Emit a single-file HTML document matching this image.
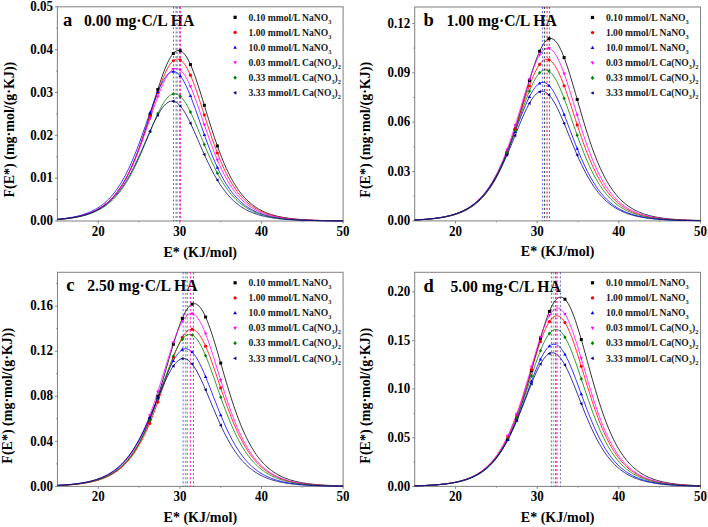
<!DOCTYPE html>
<html><head><meta charset="utf-8"><style>html,body{margin:0;padding:0;background:#fff;width:708px;height:527px;overflow:hidden}</style></head>
<body><svg width="708" height="527" viewBox="0 0 708 527" style="display:block;font-family:'Liberation Serif', serif;font-weight:bold">
<rect width="708" height="527" fill="#fff"/>
<rect x="57.40" y="6.80" width="285.70" height="214.20" fill="none" stroke="#858585" stroke-width="1.05"/>
<line x1="98.21" y1="221.00" x2="98.21" y2="223.50" stroke="#858585" stroke-width="1"/>
<line x1="179.84" y1="221.00" x2="179.84" y2="223.50" stroke="#858585" stroke-width="1"/>
<line x1="261.47" y1="221.00" x2="261.47" y2="223.50" stroke="#858585" stroke-width="1"/>
<line x1="343.10" y1="221.00" x2="343.10" y2="223.50" stroke="#858585" stroke-width="1"/>
<line x1="139.03" y1="221.00" x2="139.03" y2="222.50" stroke="#858585" stroke-width="0.8"/>
<line x1="220.66" y1="221.00" x2="220.66" y2="222.50" stroke="#858585" stroke-width="0.8"/>
<line x1="302.29" y1="221.00" x2="302.29" y2="222.50" stroke="#858585" stroke-width="0.8"/>
<text transform="translate(98.21,236.00) scale(1,1.12)" font-size="13" text-anchor="middle">20</text>
<text transform="translate(179.84,236.00) scale(1,1.12)" font-size="13" text-anchor="middle">30</text>
<text transform="translate(261.47,236.00) scale(1,1.12)" font-size="13" text-anchor="middle">40</text>
<text transform="translate(343.10,236.00) scale(1,1.12)" font-size="13" text-anchor="middle">50</text>
<line x1="54.90" y1="221.00" x2="57.40" y2="221.00" stroke="#858585" stroke-width="1"/>
<text transform="translate(53.00,225.20) scale(1,1.15)" font-size="13" text-anchor="end">0.00</text>
<line x1="54.90" y1="178.16" x2="57.40" y2="178.16" stroke="#858585" stroke-width="1"/>
<text transform="translate(53.00,182.36) scale(1,1.15)" font-size="13" text-anchor="end">0.01</text>
<line x1="54.90" y1="135.32" x2="57.40" y2="135.32" stroke="#858585" stroke-width="1"/>
<text transform="translate(53.00,139.52) scale(1,1.15)" font-size="13" text-anchor="end">0.02</text>
<line x1="54.90" y1="92.48" x2="57.40" y2="92.48" stroke="#858585" stroke-width="1"/>
<text transform="translate(53.00,96.68) scale(1,1.15)" font-size="13" text-anchor="end">0.03</text>
<line x1="54.90" y1="49.64" x2="57.40" y2="49.64" stroke="#858585" stroke-width="1"/>
<text transform="translate(53.00,53.84) scale(1,1.15)" font-size="13" text-anchor="end">0.04</text>
<line x1="54.90" y1="6.80" x2="57.40" y2="6.80" stroke="#858585" stroke-width="1"/>
<text transform="translate(53.00,11.00) scale(1,1.15)" font-size="13" text-anchor="end">0.05</text>
<line x1="55.90" y1="199.58" x2="57.40" y2="199.58" stroke="#858585" stroke-width="0.8"/>
<line x1="55.90" y1="156.74" x2="57.40" y2="156.74" stroke="#858585" stroke-width="0.8"/>
<line x1="55.90" y1="113.90" x2="57.40" y2="113.90" stroke="#858585" stroke-width="0.8"/>
<line x1="55.90" y1="71.06" x2="57.40" y2="71.06" stroke="#858585" stroke-width="0.8"/>
<line x1="55.90" y1="28.22" x2="57.40" y2="28.22" stroke="#858585" stroke-width="0.8"/>
<text x="200.25" y="256.50" font-size="14" text-anchor="middle">E* (KJ/mol)</text>
<text transform="translate(13.90,129.60) rotate(-90)" font-size="14" text-anchor="middle">F(E*) (mg·mol/(g·KJ))</text>
<text x="62.90" y="25.50" font-size="18.5">a</text>
<text transform="translate(84.00,25.50) scale(1,1.05)" font-size="15.7">0.00</text>
<text x="115.40" y="25.50" font-size="15.7">mg·C/L HA</text>
<rect x="233.50" y="15.70" width="3.20" height="3.20" fill="#000000"/>
<text x="248.50" y="20.50" font-size="9.6" fill="#1a1a1a">0.10 mmol/L NaNO<tspan font-size="6.3" dy="3">3</tspan></text>
<circle cx="235.10" cy="32.40" r="1.68" fill="#ff0000"/>
<text x="248.50" y="35.60" font-size="9.6" fill="#1a1a1a">1.00 mmol/L NaNO<tspan font-size="6.3" dy="3">3</tspan></text>
<path d="M235.10,45.58L236.94,48.78L233.26,48.78Z" fill="#0000ff"/>
<text x="248.50" y="50.70" font-size="9.6" fill="#1a1a1a">10.0 mmol/L NaNO<tspan font-size="6.3" dy="3">3</tspan></text>
<path d="M235.10,64.52L236.94,61.32L233.26,61.32Z" fill="#ff00ff"/>
<text x="248.50" y="65.80" font-size="9.6" fill="#1a1a1a">0.03 mmol/L Ca(NO<tspan font-size="6.3" dy="3">3</tspan><tspan dy="-3">)</tspan><tspan font-size="6.3" dy="3">2</tspan></text>
<path d="M235.10,75.62L236.86,77.70L235.10,79.78L233.34,77.70Z" fill="#008000"/>
<text x="248.50" y="80.90" font-size="9.6" fill="#1a1a1a">0.33 mmol/L Ca(NO<tspan font-size="6.3" dy="3">3</tspan><tspan dy="-3">)</tspan><tspan font-size="6.3" dy="3">2</tspan></text>
<path d="M233.18,92.80L236.38,90.96L236.38,94.64Z" fill="#000080"/>
<text x="248.50" y="96.00" font-size="9.6" fill="#1a1a1a">3.33 mmol/L Ca(NO<tspan font-size="6.3" dy="3">3</tspan><tspan dy="-3">)</tspan><tspan font-size="6.3" dy="3">2</tspan></text>
<polyline points="57.40,219.42 58.59,219.32 59.78,219.22 60.97,219.11 62.16,218.99 63.35,218.87 64.54,218.74 65.73,218.60 66.92,218.46 68.11,218.30 69.30,218.14 70.49,217.97 71.69,217.78 72.88,217.59 74.07,217.38 75.26,217.16 76.45,216.93 77.64,216.68 78.83,216.42 80.02,216.14 81.21,215.85 82.40,215.54 83.59,215.21 84.78,214.86 85.97,214.49 87.16,214.10 88.35,213.69 89.54,213.25 90.73,212.79 91.92,212.29 93.11,211.77 94.30,211.23 95.49,210.64 96.68,210.03 97.87,209.38 99.06,208.69 100.25,207.97 101.45,207.20 102.64,206.39 103.83,205.54 105.02,204.64 106.21,203.69 107.40,202.68 108.59,201.63 109.78,200.51 110.97,199.34 112.16,198.10 113.35,196.80 114.54,195.43 115.73,193.99 116.92,192.48 118.11,190.89 119.30,189.23 120.49,187.48 121.68,185.65 122.87,183.73 124.06,181.73 125.25,179.63 126.44,177.44 127.63,175.16 128.83,172.77 130.02,170.29 131.21,167.71 132.40,165.03 133.59,162.25 134.78,159.37 135.97,156.39 137.16,153.31 138.35,150.13 139.54,146.86 140.73,143.50 141.92,140.05 143.11,136.52 144.30,132.91 145.49,129.23 146.68,125.49 147.87,121.69 149.06,117.85 150.25,113.98 151.44,110.08 152.63,106.17 153.82,102.27 155.01,98.39 156.20,94.54 157.40,90.74 158.59,87.01 159.78,83.37 160.97,79.83 162.16,76.40 163.35,73.12 164.54,70.00 165.73,67.05 166.92,64.29 168.11,61.75 169.30,59.43 170.49,57.35 171.68,55.53 172.87,53.97 174.06,52.69 175.25,51.70 176.44,51.00 177.63,50.60 178.82,50.50 180.01,50.70 181.20,51.21 182.39,52.01 183.58,53.10 184.77,54.47 185.97,56.12 187.16,58.03 188.35,60.20 189.54,62.60 190.73,65.21 191.92,68.04 193.11,71.05 194.30,74.23 195.49,77.56 196.68,81.03 197.87,84.61 199.06,88.28 200.25,92.04 201.44,95.86 202.63,99.72 203.82,103.61 205.01,107.51 206.20,111.42 207.39,115.31 208.58,119.17 209.77,123.00 210.96,126.77 212.15,130.50 213.34,134.15 214.54,137.74 215.73,141.24 216.92,144.66 218.11,147.99 219.30,151.23 220.49,154.38 221.68,157.42 222.87,160.37 224.06,163.22 225.25,165.96 226.44,168.61 227.63,171.15 228.82,173.60 230.01,175.95 231.20,178.20 232.39,180.36 233.58,182.42 234.77,184.40 235.96,186.29 237.15,188.09 238.34,189.81 239.53,191.45 240.72,193.01 241.91,194.49 243.11,195.91 244.30,197.25 245.49,198.53 246.68,199.75 247.87,200.90 249.06,201.99 250.25,203.03 251.44,204.02 252.63,204.95 253.82,205.84 255.01,206.68 256.20,207.47 257.39,208.22 258.58,208.93 259.77,209.61 260.96,210.24 262.15,210.85 263.34,211.42 264.53,211.96 265.72,212.47 266.91,212.95 268.10,213.40 269.29,213.83 270.48,214.24 271.68,214.62 272.87,214.98 274.06,215.32 275.25,215.65 276.44,215.95 277.63,216.24 278.82,216.51 280.01,216.77 281.20,217.01 282.39,217.24 283.58,217.45 284.77,217.66 285.96,217.85 287.15,218.03 288.34,218.20 289.53,218.36 290.72,218.51 291.91,218.65 293.10,218.79 294.29,218.91 295.48,219.03 296.67,219.15 297.86,219.25 299.05,219.35 300.25,219.45 301.44,219.54 302.63,219.62 303.82,219.70 305.01,219.78 306.20,219.85 307.39,219.91 308.58,219.98 309.77,220.03 310.96,220.09 312.15,220.14 313.34,220.19 314.53,220.24 315.72,220.28 316.91,220.32 318.10,220.36 319.29,220.40 320.48,220.43 321.67,220.47 322.86,220.50 324.05,220.53 325.24,220.55 326.43,220.58 327.62,220.60 328.81,220.63 330.01,220.65 331.20,220.67 332.39,220.69 333.58,220.71 334.77,220.72 335.96,220.74 337.15,220.75 338.34,220.77 339.53,220.78 340.72,220.79 341.91,220.81 343.10,220.82" fill="none" stroke="#000000" stroke-width="0.8"/>
<polyline points="57.40,219.40 58.59,219.30 59.78,219.20 60.97,219.09 62.16,218.98 63.35,218.85 64.54,218.72 65.73,218.58 66.92,218.44 68.11,218.28 69.30,218.11 70.49,217.94 71.69,217.75 72.88,217.56 74.07,217.35 75.26,217.13 76.45,216.89 77.64,216.64 78.83,216.38 80.02,216.10 81.21,215.80 82.40,215.49 83.59,215.16 84.78,214.81 85.97,214.44 87.16,214.04 88.35,213.63 89.54,213.18 90.73,212.72 91.92,212.22 93.11,211.70 94.30,211.15 95.49,210.56 96.68,209.95 97.87,209.29 99.06,208.60 100.25,207.87 101.45,207.11 102.64,206.29 103.83,205.43 105.02,204.53 106.21,203.58 107.40,202.57 108.59,201.51 109.78,200.39 110.97,199.22 112.16,197.98 113.35,196.68 114.54,195.31 115.73,193.87 116.92,192.36 118.11,190.78 119.30,189.12 120.49,187.38 121.68,185.55 122.87,183.64 124.06,181.65 125.25,179.57 126.44,177.40 127.63,175.13 128.83,172.77 130.02,170.32 131.21,167.77 132.40,165.13 133.59,162.39 134.78,159.55 135.97,156.63 137.16,153.61 138.35,150.50 139.54,147.30 140.73,144.02 141.92,140.66 143.11,137.23 144.30,133.74 145.49,130.18 146.68,126.58 147.87,122.93 149.06,119.25 150.25,115.55 151.44,111.84 152.63,108.13 153.82,104.45 155.01,100.79 156.20,97.19 157.40,93.65 158.59,90.19 159.78,86.83 160.97,83.58 162.16,80.47 163.35,77.50 164.54,74.71 165.73,72.10 166.92,69.68 168.11,67.49 169.30,65.52 170.49,63.80 171.68,62.33 172.87,61.12 174.06,60.18 175.25,59.53 176.44,59.16 177.63,59.07 178.82,59.27 180.01,59.76 181.20,60.52 182.39,61.57 183.58,62.88 184.77,64.46 185.97,66.28 187.16,68.34 188.35,70.62 189.54,73.12 190.73,75.80 191.92,78.67 193.11,81.69 194.30,84.86 195.49,88.16 196.68,91.56 197.87,95.05 199.06,98.62 200.25,102.25 201.44,105.92 202.63,109.61 203.82,113.32 205.01,117.03 206.20,120.72 207.39,124.39 208.58,128.02 209.77,131.61 210.96,135.14 212.15,138.61 213.34,142.02 214.54,145.34 215.73,148.59 216.92,151.75 218.11,154.83 219.30,157.81 220.49,160.70 221.68,163.50 222.87,166.20 224.06,168.80 225.25,171.31 226.44,173.73 227.63,176.05 228.82,178.28 230.01,180.41 231.20,182.46 232.39,184.42 233.58,186.29 234.77,188.08 235.96,189.79 237.15,191.42 238.34,192.97 239.53,194.46 240.72,195.86 241.91,197.21 243.11,198.48 244.30,199.69 245.49,200.85 246.68,201.94 247.87,202.98 249.06,203.96 250.25,204.90 251.44,205.78 252.63,206.62 253.82,207.42 255.01,208.17 256.20,208.88 257.39,209.56 258.58,210.20 259.77,210.80 260.96,211.37 262.15,211.91 263.34,212.42 264.53,212.91 265.72,213.36 266.91,213.80 268.10,214.20 269.29,214.59 270.48,214.95 271.68,215.29 272.87,215.62 274.06,215.93 275.25,216.21 276.44,216.49 277.63,216.74 278.82,216.99 280.01,217.22 281.20,217.43 282.39,217.64 283.58,217.83 284.77,218.01 285.96,218.18 287.15,218.34 288.34,218.50 289.53,218.64 290.72,218.77 291.91,218.90 293.10,219.02 294.29,219.14 295.48,219.24 296.67,219.34 297.86,219.44 299.05,219.53 300.25,219.61 301.44,219.69 302.63,219.77 303.82,219.84 305.01,219.91 306.20,219.97 307.39,220.03 308.58,220.09 309.77,220.14 310.96,220.19 312.15,220.23 313.34,220.28 314.53,220.32 315.72,220.36 316.91,220.40 318.10,220.43 319.29,220.46 320.48,220.49 321.67,220.52 322.86,220.55 324.05,220.58 325.24,220.60 326.43,220.62 327.62,220.65 328.81,220.67 330.01,220.69 331.20,220.70 332.39,220.72 333.58,220.74 334.77,220.75 335.96,220.77 337.15,220.78 338.34,220.79 339.53,220.80 340.72,220.82 341.91,220.83 343.10,220.84" fill="none" stroke="#ff0000" stroke-width="0.8"/>
<polyline points="57.40,219.19 58.59,219.08 59.78,218.97 60.97,218.84 62.16,218.71 63.35,218.57 64.54,218.42 65.73,218.27 66.92,218.10 68.11,217.93 69.30,217.74 70.49,217.54 71.69,217.33 72.88,217.11 74.07,216.87 75.26,216.63 76.45,216.36 77.64,216.08 78.83,215.79 80.02,215.47 81.21,215.14 82.40,214.79 83.59,214.41 84.78,214.02 85.97,213.60 87.16,213.16 88.35,212.69 89.54,212.20 90.73,211.68 91.92,211.12 93.11,210.54 94.30,209.92 95.49,209.27 96.68,208.58 97.87,207.85 99.06,207.09 100.25,206.28 101.45,205.42 102.64,204.52 103.83,203.57 105.02,202.57 106.21,201.52 107.40,200.41 108.59,199.24 109.78,198.01 110.97,196.72 112.16,195.36 113.35,193.94 114.54,192.45 115.73,190.88 116.92,189.24 118.11,187.53 119.30,185.73 120.49,183.86 121.68,181.90 122.87,179.86 124.06,177.73 125.25,175.51 126.44,173.21 127.63,170.82 128.83,168.34 130.02,165.77 131.21,163.12 132.40,160.38 133.59,157.56 134.78,154.65 135.97,151.67 137.16,148.61 138.35,145.48 139.54,142.28 140.73,139.03 141.92,135.73 143.11,132.38 144.30,129.00 145.49,125.59 146.68,122.17 147.87,118.75 149.06,115.33 150.25,111.94 151.44,108.58 152.63,105.28 153.82,102.04 155.01,98.88 156.20,95.82 157.40,92.87 158.59,90.06 159.78,87.39 160.97,84.88 162.16,82.54 163.35,80.40 164.54,78.46 165.73,76.74 166.92,75.25 168.11,73.99 169.30,72.98 170.49,72.23 171.68,71.74 172.87,71.51 174.06,71.54 175.25,71.84 176.44,72.40 177.63,73.22 178.82,74.29 180.01,75.61 181.20,77.16 182.39,78.94 183.58,80.93 184.77,83.12 185.97,85.50 187.16,88.06 188.35,90.77 189.54,93.62 190.73,96.60 191.92,99.68 193.11,102.86 194.30,106.12 195.49,109.44 196.68,112.81 197.87,116.21 199.06,119.63 200.25,123.05 201.44,126.47 202.63,129.87 203.82,133.25 205.01,136.58 206.20,139.87 207.39,143.11 208.58,146.29 209.77,149.40 210.96,152.44 212.15,155.41 213.34,158.29 214.54,161.09 215.73,163.81 216.92,166.44 218.11,168.99 219.30,171.44 220.49,173.81 221.68,176.09 222.87,178.28 224.06,180.39 225.25,182.41 226.44,184.35 227.63,186.20 228.82,187.98 230.01,189.67 231.20,191.29 232.39,192.84 233.58,194.31 234.77,195.72 235.96,197.06 237.15,198.33 238.34,199.54 239.53,200.70 240.72,201.79 241.91,202.83 243.11,203.82 244.30,204.76 245.49,205.65 246.68,206.49 247.87,207.29 249.06,208.05 250.25,208.76 251.44,209.44 252.63,210.09 253.82,210.69 255.01,211.27 256.20,211.81 257.39,212.33 258.58,212.82 259.77,213.28 260.96,213.71 262.15,214.12 263.34,214.51 264.53,214.88 265.72,215.23 266.91,215.55 268.10,215.86 269.29,216.16 270.48,216.43 271.68,216.69 272.87,216.94 274.06,217.17 275.25,217.39 276.44,217.59 277.63,217.79 278.82,217.97 280.01,218.15 281.20,218.31 282.39,218.46 283.58,218.61 284.77,218.75 285.96,218.87 287.15,219.00 288.34,219.11 289.53,219.22 290.72,219.32 291.91,219.42 293.10,219.51 294.29,219.60 295.48,219.68 296.67,219.75 297.86,219.82 299.05,219.89 300.25,219.96 301.44,220.02 302.63,220.07 303.82,220.13 305.01,220.18 306.20,220.22 307.39,220.27 308.58,220.31 309.77,220.35 310.96,220.39 312.15,220.42 313.34,220.46 314.53,220.49 315.72,220.52 316.91,220.55 318.10,220.57 319.29,220.60 320.48,220.62 321.67,220.64 322.86,220.66 324.05,220.68 325.24,220.70 326.43,220.72 327.62,220.73 328.81,220.75 330.01,220.76 331.20,220.78 332.39,220.79 333.58,220.80 334.77,220.81 335.96,220.82 337.15,220.83 338.34,220.84 339.53,220.85 340.72,220.86 341.91,220.87 343.10,220.88" fill="none" stroke="#0000ff" stroke-width="0.8"/>
<polyline points="57.40,219.40 58.59,219.30 59.78,219.20 60.97,219.09 62.16,218.97 63.35,218.85 64.54,218.72 65.73,218.58 66.92,218.43 68.11,218.28 69.30,218.11 70.49,217.94 71.69,217.75 72.88,217.55 74.07,217.35 75.26,217.12 76.45,216.89 77.64,216.64 78.83,216.38 80.02,216.10 81.21,215.80 82.40,215.49 83.59,215.16 84.78,214.81 85.97,214.44 87.16,214.04 88.35,213.63 89.54,213.19 90.73,212.72 91.92,212.23 93.11,211.71 94.30,211.16 95.49,210.57 96.68,209.96 97.87,209.31 99.06,208.62 100.25,207.89 101.45,207.13 102.64,206.32 103.83,205.46 105.02,204.56 106.21,203.61 107.40,202.61 108.59,201.56 109.78,200.45 110.97,199.29 112.16,198.06 113.35,196.77 114.54,195.41 115.73,193.99 116.92,192.49 118.11,190.93 119.30,189.28 120.49,187.57 121.68,185.77 122.87,183.89 124.06,181.92 125.25,179.87 126.44,177.74 127.63,175.51 128.83,173.20 130.02,170.80 131.21,168.31 132.40,165.72 133.59,163.05 134.78,160.29 135.97,157.45 137.16,154.52 138.35,151.50 139.54,148.41 140.73,145.25 141.92,142.02 143.11,138.72 144.30,135.37 145.49,131.97 146.68,128.54 147.87,125.07 149.06,121.58 150.25,118.09 151.44,114.60 152.63,111.13 153.82,107.69 155.01,104.30 156.20,100.96 157.40,97.71 158.59,94.55 159.78,91.49 160.97,88.56 162.16,85.78 163.35,83.15 164.54,80.69 165.73,78.43 166.92,76.37 168.11,74.52 169.30,72.90 170.49,71.52 171.68,70.40 172.87,69.52 174.06,68.91 175.25,68.57 176.44,68.50 177.63,68.69 178.82,69.16 180.01,69.89 181.20,70.88 182.39,72.12 183.58,73.61 184.77,75.34 185.97,77.28 187.16,79.44 188.35,81.79 189.54,84.33 190.73,87.03 191.92,89.89 193.11,92.87 194.30,95.98 195.49,99.19 196.68,102.48 197.87,105.84 199.06,109.26 200.25,112.71 201.44,116.20 202.63,119.69 203.82,123.18 205.01,126.66 206.20,130.11 207.39,133.53 208.58,136.91 209.77,140.24 210.96,143.50 212.15,146.70 213.34,149.83 214.54,152.89 215.73,155.87 216.92,158.76 218.11,161.57 219.30,164.28 220.49,166.92 221.68,169.46 222.87,171.91 224.06,174.27 225.25,176.54 226.44,178.73 227.63,180.82 228.82,182.83 230.01,184.76 231.20,186.60 232.39,188.36 233.58,190.04 234.77,191.65 235.96,193.18 237.15,194.65 238.34,196.04 239.53,197.36 240.72,198.63 241.91,199.83 243.11,200.97 244.30,202.05 245.49,203.08 246.68,204.05 247.87,204.98 249.06,205.86 250.25,206.69 251.44,207.48 252.63,208.23 253.82,208.94 255.01,209.61 256.20,210.24 257.39,210.84 258.58,211.41 259.77,211.95 260.96,212.46 262.15,212.94 263.34,213.39 264.53,213.82 265.72,214.23 266.91,214.61 268.10,214.97 269.29,215.31 270.48,215.64 271.68,215.94 272.87,216.23 274.06,216.50 275.25,216.76 276.44,217.00 277.63,217.23 278.82,217.44 280.01,217.65 281.20,217.84 282.39,218.02 283.58,218.19 284.77,218.35 285.96,218.50 287.15,218.65 288.34,218.78 289.53,218.91 290.72,219.03 291.91,219.14 293.10,219.25 294.29,219.35 295.48,219.44 296.67,219.53 297.86,219.62 299.05,219.70 300.25,219.77 301.44,219.84 302.63,219.91 303.82,219.97 305.01,220.03 306.20,220.09 307.39,220.14 308.58,220.19 309.77,220.24 310.96,220.28 312.15,220.32 313.34,220.36 314.53,220.40 315.72,220.43 316.91,220.47 318.10,220.50 319.29,220.53 320.48,220.55 321.67,220.58 322.86,220.60 324.05,220.63 325.24,220.65 326.43,220.67 327.62,220.69 328.81,220.70 330.01,220.72 331.20,220.74 332.39,220.75 333.58,220.77 334.77,220.78 335.96,220.79 337.15,220.81 338.34,220.82 339.53,220.83 340.72,220.84 341.91,220.85 343.10,220.86" fill="none" stroke="#ff00ff" stroke-width="0.8"/>
<polyline points="57.40,219.55 58.59,219.46 59.78,219.37 60.97,219.27 62.16,219.17 63.35,219.06 64.54,218.94 65.73,218.81 66.92,218.68 68.11,218.54 69.30,218.39 70.49,218.23 71.69,218.06 72.88,217.88 74.07,217.70 75.26,217.50 76.45,217.28 77.64,217.06 78.83,216.82 80.02,216.57 81.21,216.30 82.40,216.02 83.59,215.72 84.78,215.40 85.97,215.07 87.16,214.72 88.35,214.34 89.54,213.94 90.73,213.52 91.92,213.08 93.11,212.61 94.30,212.11 95.49,211.59 96.68,211.03 97.87,210.45 99.06,209.83 100.25,209.18 101.45,208.49 102.64,207.76 103.83,207.00 105.02,206.19 106.21,205.34 107.40,204.44 108.59,203.50 109.78,202.51 110.97,201.47 112.16,200.37 113.35,199.22 114.54,198.01 115.73,196.74 116.92,195.41 118.11,194.02 119.30,192.56 120.49,191.03 121.68,189.44 122.87,187.77 124.06,186.04 125.25,184.23 126.44,182.34 127.63,180.39 128.83,178.36 130.02,176.25 131.21,174.07 132.40,171.81 133.59,169.48 134.78,167.08 135.97,164.61 137.16,162.07 138.35,159.47 139.54,156.81 140.73,154.09 141.92,151.33 143.11,148.51 144.30,145.67 145.49,142.79 146.68,139.89 147.87,136.98 149.06,134.06 150.25,131.16 151.44,128.27 152.63,125.41 153.82,122.60 155.01,119.84 156.20,117.15 157.40,114.54 158.59,112.03 159.78,109.63 160.97,107.36 162.16,105.22 163.35,103.23 164.54,101.40 165.73,99.74 166.92,98.27 168.11,97.00 169.30,95.92 170.49,95.06 171.68,94.41 172.87,93.99 174.06,93.78 175.25,93.81 176.44,94.05 177.63,94.52 178.82,95.21 180.01,96.12 181.20,97.24 182.39,98.55 183.58,100.06 184.77,101.75 185.97,103.61 187.16,105.63 188.35,107.80 189.54,110.10 190.73,112.53 191.92,115.06 193.11,117.68 194.30,120.39 195.49,123.16 196.68,125.98 197.87,128.85 199.06,131.74 200.25,134.65 201.44,137.56 202.63,140.47 203.82,143.37 205.01,146.24 206.20,149.08 207.39,151.88 208.58,154.64 209.77,157.34 210.96,159.99 212.15,162.58 213.34,165.11 214.54,167.56 215.73,169.95 216.92,172.27 218.11,174.51 219.30,176.68 220.49,178.77 221.68,180.78 222.87,182.73 224.06,184.59 225.25,186.39 226.44,188.11 227.63,189.76 228.82,191.34 230.01,192.85 231.20,194.30 232.39,195.68 233.58,197.00 234.77,198.25 235.96,199.45 237.15,200.59 238.34,201.68 239.53,202.71 240.72,203.69 241.91,204.63 243.11,205.51 244.30,206.36 245.49,207.15 246.68,207.91 247.87,208.63 249.06,209.31 250.25,209.96 251.44,210.57 252.63,211.15 253.82,211.70 255.01,212.21 256.20,212.71 257.39,213.17 258.58,213.61 259.77,214.02 260.96,214.42 262.15,214.79 263.34,215.14 264.53,215.47 265.72,215.78 266.91,216.08 268.10,216.36 269.29,216.62 270.48,216.87 271.68,217.10 272.87,217.33 274.06,217.54 275.25,217.73 276.44,217.92 277.63,218.10 278.82,218.26 280.01,218.42 281.20,218.57 282.39,218.71 283.58,218.84 284.77,218.96 285.96,219.08 287.15,219.19 288.34,219.29 289.53,219.39 290.72,219.48 291.91,219.57 293.10,219.65 294.29,219.73 295.48,219.80 296.67,219.87 297.86,219.94 299.05,220.00 300.25,220.06 301.44,220.11 302.63,220.16 303.82,220.21 305.01,220.26 306.20,220.30 307.39,220.34 308.58,220.38 309.77,220.41 310.96,220.45 312.15,220.48 313.34,220.51 314.53,220.54 315.72,220.56 316.91,220.59 318.10,220.61 319.29,220.63 320.48,220.66 321.67,220.68 322.86,220.69 324.05,220.71 325.24,220.73 326.43,220.74 327.62,220.76 328.81,220.77 330.01,220.79 331.20,220.80 332.39,220.81 333.58,220.82 334.77,220.83 335.96,220.84 337.15,220.85 338.34,220.86 339.53,220.87 340.72,220.87 341.91,220.88 343.10,220.89" fill="none" stroke="#008000" stroke-width="0.8"/>
<polyline points="57.40,219.46 58.59,219.37 59.78,219.27 60.97,219.16 62.16,219.05 63.35,218.93 64.54,218.80 65.73,218.67 66.92,218.53 68.11,218.38 69.30,218.22 70.49,218.05 71.69,217.87 72.88,217.68 74.07,217.48 75.26,217.27 76.45,217.05 77.64,216.81 78.83,216.56 80.02,216.29 81.21,216.01 82.40,215.71 83.59,215.39 84.78,215.06 85.97,214.70 87.16,214.33 88.35,213.93 89.54,213.51 90.73,213.06 91.92,212.59 93.11,212.10 94.30,211.57 95.49,211.02 96.68,210.44 97.87,209.82 99.06,209.17 100.25,208.48 101.45,207.76 102.64,206.99 103.83,206.19 105.02,205.34 106.21,204.45 107.40,203.51 108.59,202.53 109.78,201.49 110.97,200.40 112.16,199.26 113.35,198.06 114.54,196.80 115.73,195.48 116.92,194.10 118.11,192.66 119.30,191.16 120.49,189.58 121.68,187.94 122.87,186.23 124.06,184.45 125.25,182.60 126.44,180.68 127.63,178.69 128.83,176.63 130.02,174.50 131.21,172.30 132.40,170.03 133.59,167.70 134.78,165.30 135.97,162.85 137.16,160.34 138.35,157.77 139.54,155.16 140.73,152.51 141.92,149.82 143.11,147.11 144.30,144.38 145.49,141.63 146.68,138.88 147.87,136.14 149.06,133.42 150.25,130.73 151.44,128.08 152.63,125.48 153.82,122.95 155.01,120.50 156.20,118.14 157.40,115.88 158.59,113.74 159.78,111.73 160.97,109.86 162.16,108.15 163.35,106.60 164.54,105.22 165.73,104.03 166.92,103.03 168.11,102.23 169.30,101.63 170.49,101.24 171.68,101.06 172.87,101.09 174.06,101.34 175.25,101.80 176.44,102.46 177.63,103.32 178.82,104.39 180.01,105.64 181.20,107.07 182.39,108.67 183.58,110.44 184.77,112.35 185.97,114.40 187.16,116.58 188.35,118.87 189.54,121.26 190.73,123.74 191.92,126.29 193.11,128.91 194.30,131.57 195.49,134.28 196.68,137.00 197.87,139.75 199.06,142.49 200.25,145.24 201.44,147.97 202.63,150.67 203.82,153.35 205.01,155.99 206.20,158.58 207.39,161.13 208.58,163.63 209.77,166.06 210.96,168.44 212.15,170.75 213.34,173.00 214.54,175.18 215.73,177.29 216.92,179.33 218.11,181.30 219.30,183.19 220.49,185.02 221.68,186.78 222.87,188.46 224.06,190.08 225.25,191.64 226.44,193.12 227.63,194.54 228.82,195.90 230.01,197.20 231.20,198.44 232.39,199.62 233.58,200.75 234.77,201.82 235.96,202.84 237.15,203.81 238.34,204.74 239.53,205.61 240.72,206.45 241.91,207.24 243.11,207.99 244.30,208.70 245.49,209.38 246.68,210.02 247.87,210.62 249.06,211.20 250.25,211.74 251.44,212.26 252.63,212.74 253.82,213.21 255.01,213.64 256.20,214.06 257.39,214.45 258.58,214.81 259.77,215.16 260.96,215.49 262.15,215.80 263.34,216.10 264.53,216.38 265.72,216.64 266.91,216.89 268.10,217.12 269.29,217.34 270.48,217.55 271.68,217.75 272.87,217.93 274.06,218.11 275.25,218.27 276.44,218.43 277.63,218.57 278.82,218.71 280.01,218.84 281.20,218.97 282.39,219.08 283.58,219.19 284.77,219.30 285.96,219.40 287.15,219.49 288.34,219.57 289.53,219.66 290.72,219.73 291.91,219.81 293.10,219.88 294.29,219.94 295.48,220.00 296.67,220.06 297.86,220.11 299.05,220.16 300.25,220.21 301.44,220.26 302.63,220.30 303.82,220.34 305.01,220.38 306.20,220.41 307.39,220.45 308.58,220.48 309.77,220.51 310.96,220.54 312.15,220.56 313.34,220.59 314.53,220.61 315.72,220.64 316.91,220.66 318.10,220.68 319.29,220.70 320.48,220.71 321.67,220.73 322.86,220.75 324.05,220.76 325.24,220.77 326.43,220.79 327.62,220.80 328.81,220.81 330.01,220.82 331.20,220.83 332.39,220.84 333.58,220.85 334.77,220.86 335.96,220.87 337.15,220.88 338.34,220.88 339.53,220.89 340.72,220.90 341.91,220.90 343.10,220.91" fill="none" stroke="#000080" stroke-width="0.8"/>
<line x1="173.48" y1="6.80" x2="173.48" y2="221.00" stroke="#0000ff" stroke-width="1" stroke-dasharray="2,2.1" opacity="0.6"/>
<line x1="176.09" y1="6.80" x2="176.09" y2="221.00" stroke="#000080" stroke-width="1" stroke-dasharray="2,2.1" opacity="0.6"/>
<line x1="177.31" y1="6.80" x2="177.31" y2="221.00" stroke="#008000" stroke-width="1" stroke-dasharray="2,2.1" opacity="0.6"/>
<line x1="179.84" y1="6.80" x2="179.84" y2="221.00" stroke="#000000" stroke-width="1" stroke-dasharray="2,2.1" opacity="0.6"/>
<line x1="180.09" y1="6.80" x2="180.09" y2="221.00" stroke="#ff0000" stroke-width="1" stroke-dasharray="2,2.1" opacity="0.6"/>
<line x1="180.50" y1="6.80" x2="180.50" y2="221.00" stroke="#ff00ff" stroke-width="1" stroke-dasharray="2,2.1" opacity="0.6"/>
<rect x="148.55" y="113.14" width="3.00" height="3.00" fill="#000000"/>
<rect x="156.30" y="87.96" width="3.00" height="3.00" fill="#000000"/>
<rect x="171.81" y="51.96" width="3.00" height="3.00" fill="#000000"/>
<rect x="178.75" y="49.28" width="3.00" height="3.00" fill="#000000"/>
<rect x="188.95" y="63.10" width="3.00" height="3.00" fill="#000000"/>
<rect x="202.83" y="103.78" width="3.00" height="3.00" fill="#000000"/>
<rect x="215.89" y="144.51" width="3.00" height="3.00" fill="#000000"/>
<circle cx="150.05" cy="116.18" r="1.58" fill="#ff0000"/>
<circle cx="157.80" cy="92.45" r="1.58" fill="#ff0000"/>
<circle cx="173.31" cy="60.74" r="1.58" fill="#ff0000"/>
<circle cx="180.25" cy="59.89" r="1.58" fill="#ff0000"/>
<circle cx="190.45" cy="75.17" r="1.58" fill="#ff0000"/>
<circle cx="204.33" cy="114.91" r="1.58" fill="#ff0000"/>
<circle cx="217.39" cy="152.99" r="1.58" fill="#ff0000"/>
<path d="M150.05,110.72L151.77,113.72L148.32,113.72Z" fill="#0000ff"/>
<path d="M157.80,90.09L159.53,93.09L156.08,93.09Z" fill="#0000ff"/>
<path d="M173.31,69.69L175.04,72.69L171.59,72.69Z" fill="#0000ff"/>
<path d="M180.25,74.10L181.98,77.10L178.53,77.10Z" fill="#0000ff"/>
<path d="M190.45,94.11L192.18,97.11L188.73,97.11Z" fill="#0000ff"/>
<path d="M204.33,132.88L206.06,135.88L202.61,135.88Z" fill="#0000ff"/>
<path d="M217.39,165.67L219.12,168.67L215.67,168.67Z" fill="#0000ff"/>
<path d="M150.05,120.49L151.77,117.49L148.32,117.49Z" fill="#ff00ff"/>
<path d="M157.80,98.41L159.53,95.41L156.08,95.41Z" fill="#ff00ff"/>
<path d="M173.31,71.07L175.04,68.07L171.59,68.07Z" fill="#ff00ff"/>
<path d="M180.25,71.87L181.98,68.87L178.53,68.87Z" fill="#ff00ff"/>
<path d="M190.45,88.20L192.18,85.20L188.73,85.20Z" fill="#ff00ff"/>
<path d="M204.33,126.47L206.06,123.47L202.61,123.47Z" fill="#ff00ff"/>
<path d="M217.39,161.69L219.12,158.69L215.67,158.69Z" fill="#ff00ff"/>
<path d="M150.05,129.71L151.70,131.66L150.05,133.61L148.40,131.66Z" fill="#008000"/>
<path d="M157.80,111.72L159.45,113.67L157.80,115.62L156.15,113.67Z" fill="#008000"/>
<path d="M173.31,91.93L174.96,93.88L173.31,95.83L171.66,93.88Z" fill="#008000"/>
<path d="M180.25,94.38L181.90,96.33L180.25,98.28L178.60,96.33Z" fill="#008000"/>
<path d="M190.45,110.01L192.10,111.96L190.45,113.91L188.80,111.96Z" fill="#008000"/>
<path d="M204.33,142.65L205.98,144.60L204.33,146.55L202.68,144.60Z" fill="#008000"/>
<path d="M217.39,171.22L219.04,173.17L217.39,175.12L215.74,173.17Z" fill="#008000"/>
<path d="M148.25,131.19L151.25,129.47L151.25,132.92Z" fill="#000080"/>
<path d="M156.00,115.14L159.00,113.41L159.00,116.86Z" fill="#000080"/>
<path d="M171.51,101.16L174.51,99.44L174.51,102.89Z" fill="#000080"/>
<path d="M178.45,105.91L181.45,104.18L181.45,107.63Z" fill="#000080"/>
<path d="M188.65,123.17L191.65,121.44L191.65,124.89Z" fill="#000080"/>
<path d="M202.53,154.48L205.53,152.76L205.53,156.21Z" fill="#000080"/>
<path d="M215.59,180.12L218.59,178.40L218.59,181.85Z" fill="#000080"/>
<rect x="414.70" y="7.00" width="285.80" height="213.90" fill="none" stroke="#858585" stroke-width="1.05"/>
<line x1="455.53" y1="220.90" x2="455.53" y2="223.40" stroke="#858585" stroke-width="1"/>
<line x1="537.19" y1="220.90" x2="537.19" y2="223.40" stroke="#858585" stroke-width="1"/>
<line x1="618.84" y1="220.90" x2="618.84" y2="223.40" stroke="#858585" stroke-width="1"/>
<line x1="700.50" y1="220.90" x2="700.50" y2="223.40" stroke="#858585" stroke-width="1"/>
<line x1="496.36" y1="220.90" x2="496.36" y2="222.40" stroke="#858585" stroke-width="0.8"/>
<line x1="578.01" y1="220.90" x2="578.01" y2="222.40" stroke="#858585" stroke-width="0.8"/>
<line x1="659.67" y1="220.90" x2="659.67" y2="222.40" stroke="#858585" stroke-width="0.8"/>
<text transform="translate(455.53,235.90) scale(1,1.12)" font-size="13" text-anchor="middle">20</text>
<text transform="translate(537.19,235.90) scale(1,1.12)" font-size="13" text-anchor="middle">30</text>
<text transform="translate(618.84,235.90) scale(1,1.12)" font-size="13" text-anchor="middle">40</text>
<text transform="translate(700.50,235.90) scale(1,1.12)" font-size="13" text-anchor="middle">50</text>
<line x1="412.20" y1="220.90" x2="414.70" y2="220.90" stroke="#858585" stroke-width="1"/>
<text transform="translate(410.30,225.10) scale(1,1.15)" font-size="13" text-anchor="end">0.00</text>
<line x1="412.20" y1="171.54" x2="414.70" y2="171.54" stroke="#858585" stroke-width="1"/>
<text transform="translate(410.30,175.74) scale(1,1.15)" font-size="13" text-anchor="end">0.03</text>
<line x1="412.20" y1="122.18" x2="414.70" y2="122.18" stroke="#858585" stroke-width="1"/>
<text transform="translate(410.30,126.38) scale(1,1.15)" font-size="13" text-anchor="end">0.06</text>
<line x1="412.20" y1="72.82" x2="414.70" y2="72.82" stroke="#858585" stroke-width="1"/>
<text transform="translate(410.30,77.02) scale(1,1.15)" font-size="13" text-anchor="end">0.09</text>
<line x1="412.20" y1="23.45" x2="414.70" y2="23.45" stroke="#858585" stroke-width="1"/>
<text transform="translate(410.30,27.65) scale(1,1.15)" font-size="13" text-anchor="end">0.12</text>
<line x1="413.20" y1="196.22" x2="414.70" y2="196.22" stroke="#858585" stroke-width="0.8"/>
<line x1="413.20" y1="146.86" x2="414.70" y2="146.86" stroke="#858585" stroke-width="0.8"/>
<line x1="413.20" y1="97.50" x2="414.70" y2="97.50" stroke="#858585" stroke-width="0.8"/>
<line x1="413.20" y1="48.13" x2="414.70" y2="48.13" stroke="#858585" stroke-width="0.8"/>
<text x="557.60" y="256.40" font-size="14" text-anchor="middle">E* (KJ/mol)</text>
<text transform="translate(369.50,129.80) rotate(-90)" font-size="14" text-anchor="middle">F(E*) (mg·mol/(g·KJ))</text>
<text x="423.60" y="26.00" font-size="18.5">b</text>
<text transform="translate(446.60,26.00) scale(1,1.05)" font-size="15.7">1.00</text>
<text x="478.00" y="26.00" font-size="15.7">mg·C/L HA</text>
<rect x="590.90" y="15.90" width="3.20" height="3.20" fill="#000000"/>
<text x="605.90" y="20.70" font-size="9.6" fill="#1a1a1a">0.10 mmol/L NaNO<tspan font-size="6.3" dy="3">3</tspan></text>
<circle cx="592.50" cy="32.60" r="1.68" fill="#ff0000"/>
<text x="605.90" y="35.80" font-size="9.6" fill="#1a1a1a">1.00 mmol/L NaNO<tspan font-size="6.3" dy="3">3</tspan></text>
<path d="M592.50,45.78L594.34,48.98L590.66,48.98Z" fill="#0000ff"/>
<text x="605.90" y="50.90" font-size="9.6" fill="#1a1a1a">10.0 mmol/L NaNO<tspan font-size="6.3" dy="3">3</tspan></text>
<path d="M592.50,64.72L594.34,61.52L590.66,61.52Z" fill="#ff00ff"/>
<text x="605.90" y="66.00" font-size="9.6" fill="#1a1a1a">0.03 mmol/L Ca(NO<tspan font-size="6.3" dy="3">3</tspan><tspan dy="-3">)</tspan><tspan font-size="6.3" dy="3">2</tspan></text>
<path d="M592.50,75.82L594.26,77.90L592.50,79.98L590.74,77.90Z" fill="#008000"/>
<text x="605.90" y="81.10" font-size="9.6" fill="#1a1a1a">0.33 mmol/L Ca(NO<tspan font-size="6.3" dy="3">3</tspan><tspan dy="-3">)</tspan><tspan font-size="6.3" dy="3">2</tspan></text>
<path d="M590.58,93.00L593.78,91.16L593.78,94.84Z" fill="#000080"/>
<text x="605.90" y="96.20" font-size="9.6" fill="#1a1a1a">3.33 mmol/L Ca(NO<tspan font-size="6.3" dy="3">3</tspan><tspan dy="-3">)</tspan><tspan font-size="6.3" dy="3">2</tspan></text>
<polyline points="414.70,220.04 415.89,219.98 417.08,219.93 418.27,219.87 419.46,219.81 420.65,219.74 421.84,219.67 423.04,219.60 424.23,219.52 425.42,219.43 426.61,219.34 427.80,219.25 428.99,219.15 430.18,219.04 431.37,218.93 432.56,218.81 433.75,218.69 434.94,218.55 436.13,218.41 437.33,218.26 438.52,218.10 439.71,217.93 440.90,217.75 442.09,217.56 443.28,217.36 444.47,217.15 445.66,216.92 446.85,216.69 448.04,216.43 449.23,216.16 450.43,215.88 451.62,215.58 452.81,215.26 454.00,214.92 455.19,214.57 456.38,214.19 457.57,213.79 458.76,213.36 459.95,212.92 461.14,212.44 462.33,211.94 463.52,211.41 464.71,210.85 465.91,210.26 467.10,209.63 468.29,208.97 469.48,208.27 470.67,207.53 471.86,206.74 473.05,205.92 474.24,205.05 475.43,204.13 476.62,203.16 477.81,202.14 479.00,201.06 480.20,199.93 481.39,198.73 482.58,197.47 483.77,196.15 484.96,194.75 486.15,193.29 487.34,191.75 488.53,190.13 489.72,188.44 490.91,186.66 492.10,184.79 493.30,182.84 494.49,180.79 495.68,178.65 496.87,176.42 498.06,174.08 499.25,171.65 500.44,169.11 501.63,166.47 502.82,163.73 504.01,160.88 505.20,157.92 506.39,154.86 507.58,151.69 508.78,148.42 509.97,145.05 511.16,141.58 512.35,138.01 513.54,134.35 514.73,130.60 515.92,126.77 517.11,122.87 518.30,118.90 519.49,114.87 520.68,110.80 521.88,106.69 523.07,102.56 524.26,98.41 525.45,94.27 526.64,90.14 527.83,86.05 529.02,82.01 530.21,78.04 531.40,74.16 532.59,70.38 533.78,66.73 534.97,63.22 536.16,59.87 537.36,56.71 538.55,53.74 539.74,50.99 540.93,48.48 542.12,46.22 543.31,44.22 544.50,42.51 545.69,41.08 546.88,39.95 548.07,39.13 549.26,38.62 550.45,38.43 551.65,38.55 552.84,39.00 554.03,39.76 555.22,40.82 556.41,42.19 557.60,43.85 558.79,45.79 559.98,48.00 561.17,50.46 562.36,53.16 563.55,56.08 564.75,59.21 565.94,62.52 567.13,65.99 568.32,69.62 569.51,73.37 570.70,77.24 571.89,81.19 573.08,85.22 574.27,89.30 575.46,93.42 576.65,97.56 577.84,101.70 579.03,105.84 580.23,109.96 581.42,114.04 582.61,118.08 583.80,122.06 584.99,125.98 586.18,129.82 587.37,133.59 588.56,137.26 589.75,140.85 590.94,144.34 592.13,147.74 593.33,151.03 594.52,154.22 595.71,157.30 596.90,160.28 598.09,163.15 599.28,165.92 600.47,168.58 601.66,171.14 602.85,173.59 604.04,175.95 605.23,178.20 606.42,180.36 607.62,182.42 608.81,184.40 610.00,186.28 611.19,188.08 612.38,189.79 613.57,191.42 614.76,192.98 615.95,194.46 617.14,195.87 618.33,197.21 619.52,198.48 620.71,199.69 621.90,200.83 623.10,201.92 624.29,202.96 625.48,203.94 626.67,204.86 627.86,205.74 629.05,206.58 630.24,207.37 631.43,208.12 632.62,208.82 633.81,209.50 635.00,210.13 636.19,210.73 637.39,211.30 638.58,211.83 639.77,212.34 640.96,212.82 642.15,213.27 643.34,213.70 644.53,214.11 645.72,214.49 646.91,214.85 648.10,215.19 649.29,215.52 650.49,215.82 651.68,216.11 652.87,216.38 654.06,216.63 655.25,216.88 656.44,217.10 657.63,217.32 658.82,217.52 660.01,217.72 661.20,217.90 662.39,218.07 663.58,218.23 664.77,218.38 665.97,218.52 667.16,218.66 668.35,218.79 669.54,218.91 670.73,219.02 671.92,219.13 673.11,219.23 674.30,219.32 675.49,219.41 676.68,219.50 677.87,219.58 679.07,219.66 680.26,219.73 681.45,219.79 682.64,219.86 683.83,219.92 685.02,219.97 686.21,220.03 687.40,220.08 688.59,220.12 689.78,220.17 690.97,220.21 692.16,220.25 693.36,220.29 694.55,220.32 695.74,220.35 696.93,220.39 698.12,220.41 699.31,220.44 700.50,220.47" fill="none" stroke="#000000" stroke-width="0.8"/>
<polyline points="414.70,219.98 415.89,219.92 417.08,219.86 418.27,219.80 419.46,219.73 420.65,219.66 421.84,219.59 423.04,219.51 424.23,219.43 425.42,219.34 426.61,219.24 427.80,219.14 428.99,219.03 430.18,218.92 431.37,218.80 432.56,218.68 433.75,218.54 434.94,218.40 436.13,218.25 437.33,218.09 438.52,217.92 439.71,217.74 440.90,217.55 442.09,217.35 443.28,217.13 444.47,216.91 445.66,216.67 446.85,216.41 448.04,216.15 449.23,215.86 450.43,215.56 451.62,215.24 452.81,214.90 454.00,214.55 455.19,214.17 456.38,213.77 457.57,213.34 458.76,212.90 459.95,212.42 461.14,211.92 462.33,211.39 463.52,210.83 464.71,210.24 465.91,209.61 467.10,208.95 468.29,208.26 469.48,207.52 470.67,206.74 471.86,205.92 473.05,205.06 474.24,204.14 475.43,203.18 476.62,202.17 477.81,201.10 479.00,199.98 480.20,198.80 481.39,197.55 482.58,196.25 483.77,194.87 484.96,193.43 486.15,191.92 487.34,190.33 488.53,188.66 489.72,186.92 490.91,185.10 492.10,183.19 493.30,181.20 494.49,179.12 495.68,176.95 496.87,174.69 498.06,172.34 499.25,169.89 500.44,167.36 501.63,164.72 502.82,162.00 504.01,159.18 505.20,156.27 506.39,153.27 507.58,150.18 508.78,147.01 509.97,143.75 511.16,140.42 512.35,137.02 513.54,133.56 514.73,130.03 515.92,126.46 517.11,122.85 518.30,119.21 519.49,115.54 520.68,111.87 521.88,108.21 523.07,104.56 524.26,100.94 525.45,97.37 526.64,93.87 527.83,90.44 529.02,87.11 530.21,83.90 531.40,80.81 532.59,77.87 533.78,75.09 534.97,72.50 536.16,70.09 537.36,67.90 538.55,65.94 539.74,64.21 540.93,62.72 542.12,61.50 543.31,60.54 544.50,59.86 545.69,59.45 546.88,59.32 548.07,59.48 549.26,59.91 550.45,60.63 551.65,61.61 552.84,62.86 554.03,64.37 555.22,66.13 556.41,68.12 557.60,70.33 558.79,72.75 559.98,75.37 561.17,78.16 562.36,81.12 563.55,84.22 564.75,87.45 565.94,90.79 567.13,94.23 568.32,97.74 569.51,101.31 570.70,104.93 571.89,108.58 573.08,112.25 574.27,115.92 575.46,119.58 576.65,123.22 577.84,126.83 579.03,130.40 580.23,133.92 581.42,137.38 582.61,140.77 583.80,144.09 584.99,147.34 586.18,150.50 587.37,153.58 588.56,156.57 589.75,159.47 590.94,162.28 592.13,165.00 593.33,167.62 594.52,170.15 595.71,172.58 596.90,174.93 598.09,177.18 599.28,179.34 600.47,181.41 601.66,183.39 602.85,185.29 604.04,187.10 605.23,188.84 606.42,190.49 607.62,192.07 608.81,193.58 610.00,195.02 611.19,196.38 612.38,197.68 613.57,198.92 614.76,200.10 615.95,201.21 617.14,202.28 618.33,203.28 619.52,204.24 620.71,205.15 621.90,206.01 623.10,206.82 624.29,207.60 625.48,208.33 626.67,209.02 627.86,209.68 629.05,210.30 630.24,210.89 631.43,211.45 632.62,211.97 633.81,212.47 635.00,212.94 636.19,213.39 637.39,213.81 638.58,214.21 639.77,214.58 640.96,214.94 642.15,215.27 643.34,215.59 644.53,215.89 645.72,216.17 646.91,216.44 648.10,216.69 649.29,216.93 650.49,217.16 651.68,217.37 652.87,217.57 654.06,217.76 655.25,217.94 656.44,218.11 657.63,218.26 658.82,218.41 660.01,218.56 661.20,218.69 662.39,218.82 663.58,218.93 664.77,219.05 665.97,219.15 667.16,219.25 668.35,219.35 669.54,219.43 670.73,219.52 671.92,219.60 673.11,219.67 674.30,219.74 675.49,219.81 676.68,219.87 677.87,219.93 679.07,219.98 680.26,220.04 681.45,220.09 682.64,220.13 683.83,220.18 685.02,220.22 686.21,220.26 687.40,220.29 688.59,220.33 689.78,220.36 690.97,220.39 692.16,220.42 693.36,220.45 694.55,220.47 695.74,220.50 696.93,220.52 698.12,220.54 699.31,220.56 700.50,220.58" fill="none" stroke="#ff0000" stroke-width="0.8"/>
<polyline points="414.70,219.94 415.89,219.88 417.08,219.82 418.27,219.76 419.46,219.69 420.65,219.61 421.84,219.54 423.04,219.45 424.23,219.37 425.42,219.27 426.61,219.17 427.80,219.07 428.99,218.96 430.18,218.84 431.37,218.72 432.56,218.59 433.75,218.45 434.94,218.30 436.13,218.14 437.33,217.98 438.52,217.80 439.71,217.62 440.90,217.42 442.09,217.21 443.28,216.99 444.47,216.75 445.66,216.51 446.85,216.24 448.04,215.97 449.23,215.67 450.43,215.36 451.62,215.03 452.81,214.68 454.00,214.31 455.19,213.92 456.38,213.51 457.57,213.07 458.76,212.61 459.95,212.12 461.14,211.61 462.33,211.06 463.52,210.49 464.71,209.88 465.91,209.24 467.10,208.56 468.29,207.84 469.48,207.09 470.67,206.30 471.86,205.46 473.05,204.58 474.24,203.65 475.43,202.67 476.62,201.64 477.81,200.56 479.00,199.42 480.20,198.23 481.39,196.97 482.58,195.66 483.77,194.28 484.96,192.83 486.15,191.32 487.34,189.73 488.53,188.08 489.72,186.35 490.91,184.54 492.10,182.66 493.30,180.70 494.49,178.66 495.68,176.54 496.87,174.34 498.06,172.06 499.25,169.70 500.44,167.26 501.63,164.74 502.82,162.15 504.01,159.48 505.20,156.74 506.39,153.93 507.58,151.05 508.78,148.12 509.97,145.13 511.16,142.10 512.35,139.03 513.54,135.92 514.73,132.79 515.92,129.65 517.11,126.50 518.30,123.36 519.49,120.24 520.68,117.15 521.88,114.10 523.07,111.11 524.26,108.20 525.45,105.37 526.64,102.64 527.83,100.03 529.02,97.55 530.21,95.21 531.40,93.04 532.59,91.03 533.78,89.20 534.97,87.57 536.16,86.15 537.36,84.94 538.55,83.96 539.74,83.21 540.93,82.69 542.12,82.41 543.31,82.37 544.50,82.58 545.69,83.02 546.88,83.70 548.07,84.61 549.26,85.75 550.45,87.10 551.65,88.67 552.84,90.43 554.03,92.39 555.22,94.51 556.41,96.80 557.60,99.24 558.79,101.81 559.98,104.50 561.17,107.30 562.36,110.19 563.55,113.16 564.75,116.18 565.94,119.26 567.13,122.37 568.32,125.51 569.51,128.66 570.70,131.80 571.89,134.94 573.08,138.05 574.27,141.14 575.46,144.19 576.65,147.19 577.84,150.14 579.03,153.03 580.23,155.86 581.42,158.62 582.61,161.32 583.80,163.93 584.99,166.48 586.18,168.94 587.37,171.33 588.56,173.63 589.75,175.86 590.94,178.00 592.13,180.07 593.33,182.05 594.52,183.96 595.71,185.79 596.90,187.54 598.09,189.22 599.28,190.83 600.47,192.36 601.66,193.83 602.85,195.23 604.04,196.57 605.23,197.84 606.42,199.05 607.62,200.21 608.81,201.31 610.00,202.35 611.19,203.35 612.38,204.29 613.57,205.19 614.76,206.04 615.95,206.85 617.14,207.61 618.33,208.34 619.52,209.03 620.71,209.68 621.90,210.30 623.10,210.88 624.29,211.44 625.48,211.96 626.67,212.46 627.86,212.93 629.05,213.37 630.24,213.79 631.43,214.19 632.62,214.57 633.81,214.92 635.00,215.26 636.19,215.57 637.39,215.87 638.58,216.16 639.77,216.43 640.96,216.68 642.15,216.92 643.34,217.14 644.53,217.35 645.72,217.56 646.91,217.74 648.10,217.92 649.29,218.09 650.49,218.25 651.68,218.40 652.87,218.54 654.06,218.68 655.25,218.80 656.44,218.92 657.63,219.04 658.82,219.14 660.01,219.24 661.20,219.34 662.39,219.43 663.58,219.51 664.77,219.59 665.97,219.66 667.16,219.74 668.35,219.80 669.54,219.86 670.73,219.92 671.92,219.98 673.11,220.03 674.30,220.08 675.49,220.13 676.68,220.17 677.87,220.21 679.07,220.25 680.26,220.29 681.45,220.33 682.64,220.36 683.83,220.39 685.02,220.42 686.21,220.45 687.40,220.47 688.59,220.50 689.78,220.52 690.97,220.54 692.16,220.56 693.36,220.58 694.55,220.60 695.74,220.62 696.93,220.63 698.12,220.65 699.31,220.66 700.50,220.68" fill="none" stroke="#0000ff" stroke-width="0.8"/>
<polyline points="414.70,219.96 415.89,219.90 417.08,219.84 418.27,219.78 419.46,219.71 420.65,219.64 421.84,219.56 423.04,219.48 424.23,219.40 425.42,219.31 426.61,219.21 427.80,219.11 428.99,219.00 430.18,218.88 431.37,218.76 432.56,218.63 433.75,218.50 434.94,218.35 436.13,218.20 437.33,218.04 438.52,217.86 439.71,217.68 440.90,217.49 442.09,217.28 443.28,217.06 444.47,216.83 445.66,216.59 446.85,216.33 448.04,216.05 449.23,215.76 450.43,215.46 451.62,215.13 452.81,214.79 454.00,214.42 455.19,214.04 456.38,213.63 457.57,213.20 458.76,212.74 459.95,212.25 461.14,211.74 462.33,211.20 463.52,210.63 464.71,210.02 465.91,209.39 467.10,208.71 468.29,208.00 469.48,207.24 470.67,206.45 471.86,205.61 473.05,204.72 474.24,203.79 475.43,202.81 476.62,201.77 477.81,200.67 479.00,199.52 480.20,198.31 481.39,197.03 482.58,195.69 483.77,194.28 484.96,192.80 486.15,191.25 487.34,189.61 488.53,187.90 489.72,186.11 490.91,184.23 492.10,182.26 493.30,180.21 494.49,178.06 495.68,175.82 496.87,173.48 498.06,171.05 499.25,168.52 500.44,165.89 501.63,163.16 502.82,160.32 504.01,157.39 505.20,154.36 506.39,151.23 507.58,148.01 508.78,144.69 509.97,141.28 511.16,137.79 512.35,134.21 513.54,130.56 514.73,126.85 515.92,123.07 517.11,119.24 518.30,115.37 519.49,111.47 520.68,107.55 521.88,103.63 523.07,99.71 524.26,95.81 525.45,91.95 526.64,88.15 527.83,84.42 529.02,80.77 530.21,77.23 531.40,73.81 532.59,70.54 533.78,67.43 534.97,64.49 536.16,61.75 537.36,59.22 538.55,56.92 539.74,54.86 540.93,53.05 542.12,51.52 543.31,50.26 544.50,49.29 545.69,48.61 546.88,48.22 548.07,48.14 549.26,48.36 550.45,48.88 551.65,49.69 552.84,50.80 554.03,52.19 555.22,53.85 556.41,55.77 557.60,57.94 558.79,60.35 559.98,62.98 561.17,65.81 562.36,68.83 563.55,72.02 564.75,75.36 565.94,78.83 567.13,82.42 568.32,86.11 569.51,89.88 570.70,93.71 571.89,97.59 573.08,101.50 574.27,105.42 575.46,109.35 576.65,113.26 577.84,117.15 579.03,121.00 580.23,124.80 581.42,128.55 582.61,132.24 583.80,135.86 584.99,139.39 586.18,142.85 587.37,146.22 588.56,149.49 589.75,152.67 590.94,155.76 592.13,158.75 593.33,161.63 594.52,164.42 595.71,167.10 596.90,169.69 598.09,172.18 599.28,174.56 600.47,176.86 601.66,179.05 602.85,181.16 604.04,183.17 605.23,185.10 606.42,186.94 607.62,188.69 608.81,190.37 610.00,191.97 611.19,193.49 612.38,194.94 613.57,196.31 614.76,197.63 615.95,198.87 617.14,200.06 618.33,201.18 619.52,202.25 620.71,203.26 621.90,204.22 623.10,205.13 624.29,206.00 625.48,206.82 626.67,207.59 627.86,208.33 629.05,209.02 630.24,209.68 631.43,210.30 632.62,210.89 633.81,211.45 635.00,211.98 636.19,212.48 637.39,212.95 638.58,213.40 639.77,213.82 640.96,214.22 642.15,214.59 643.34,214.95 644.53,215.28 645.72,215.60 646.91,215.90 648.10,216.18 649.29,216.45 650.49,216.70 651.68,216.94 652.87,217.16 654.06,217.38 655.25,217.58 656.44,217.76 657.63,217.94 658.82,218.11 660.01,218.27 661.20,218.42 662.39,218.56 663.58,218.69 664.77,218.82 665.97,218.94 667.16,219.05 668.35,219.16 669.54,219.26 670.73,219.35 671.92,219.44 673.11,219.52 674.30,219.60 675.49,219.67 676.68,219.74 677.87,219.81 679.07,219.87 680.26,219.93 681.45,219.99 682.64,220.04 683.83,220.09 685.02,220.13 686.21,220.18 687.40,220.22 688.59,220.26 689.78,220.30 690.97,220.33 692.16,220.36 693.36,220.39 694.55,220.42 695.74,220.45 696.93,220.48 698.12,220.50 699.31,220.52 700.50,220.54" fill="none" stroke="#ff00ff" stroke-width="0.8"/>
<polyline points="414.70,219.97 415.89,219.92 417.08,219.86 418.27,219.80 419.46,219.73 420.65,219.66 421.84,219.58 423.04,219.50 424.23,219.42 425.42,219.33 426.61,219.23 427.80,219.13 428.99,219.03 430.18,218.91 431.37,218.79 432.56,218.66 433.75,218.53 434.94,218.39 436.13,218.24 437.33,218.07 438.52,217.90 439.71,217.72 440.90,217.53 442.09,217.33 443.28,217.12 444.47,216.89 445.66,216.65 446.85,216.39 448.04,216.13 449.23,215.84 450.43,215.54 451.62,215.22 452.81,214.88 454.00,214.52 455.19,214.14 456.38,213.74 457.57,213.32 458.76,212.87 459.95,212.39 461.14,211.89 462.33,211.36 463.52,210.80 464.71,210.21 465.91,209.58 467.10,208.92 468.29,208.22 469.48,207.49 470.67,206.71 471.86,205.89 473.05,205.03 474.24,204.12 475.43,203.16 476.62,202.15 477.81,201.09 479.00,199.97 480.20,198.79 481.39,197.56 482.58,196.26 483.77,194.89 484.96,193.46 486.15,191.96 487.34,190.39 488.53,188.74 489.72,187.02 490.91,185.22 492.10,183.34 493.30,181.37 494.49,179.33 495.68,177.19 496.87,174.98 498.06,172.67 499.25,170.28 500.44,167.80 501.63,165.23 502.82,162.57 504.01,159.83 505.20,157.01 506.39,154.10 507.58,151.12 508.78,148.06 509.97,144.93 511.16,141.74 512.35,138.48 513.54,135.18 514.73,131.83 515.92,128.44 517.11,125.03 518.30,121.61 519.49,118.17 520.68,114.75 521.88,111.34 523.07,107.97 524.26,104.65 525.45,101.39 526.64,98.21 527.83,95.12 529.02,92.14 530.21,89.28 531.40,86.57 532.59,84.01 533.78,81.63 534.97,79.42 536.16,77.42 537.36,75.64 538.55,74.07 539.74,72.74 540.93,71.66 542.12,70.82 543.31,70.24 544.50,69.92 545.69,69.86 546.88,70.07 548.07,70.54 549.26,71.27 550.45,72.25 551.65,73.47 552.84,74.94 554.03,76.63 555.22,78.54 556.41,80.66 557.60,82.97 558.79,85.45 559.98,88.10 561.17,90.90 562.36,93.83 563.55,96.87 564.75,100.02 565.94,103.24 567.13,106.54 568.32,109.89 569.51,113.29 570.70,116.70 571.89,120.13 573.08,123.57 574.27,126.98 575.46,130.38 576.65,133.75 577.84,137.07 579.03,140.35 580.23,143.57 581.42,146.73 582.61,149.82 583.80,152.83 584.99,155.77 586.18,158.63 587.37,161.41 588.56,164.10 589.75,166.71 590.94,169.22 592.13,171.65 593.33,174.00 594.52,176.25 595.71,178.42 596.90,180.51 598.09,182.51 599.28,184.42 600.47,186.26 601.66,188.01 602.85,189.69 604.04,191.30 605.23,192.83 606.42,194.29 607.62,195.68 608.81,197.01 610.00,198.27 611.19,199.47 612.38,200.62 613.57,201.70 614.76,202.73 615.95,203.71 617.14,204.65 618.33,205.53 619.52,206.37 620.71,207.16 621.90,207.91 623.10,208.63 624.29,209.30 625.48,209.94 626.67,210.55 627.86,211.12 629.05,211.67 630.24,212.18 631.43,212.67 632.62,213.13 633.81,213.56 635.00,213.97 636.19,214.36 637.39,214.73 638.58,215.07 639.77,215.40 640.96,215.71 642.15,216.00 643.34,216.28 644.53,216.54 645.72,216.79 646.91,217.02 648.10,217.24 649.29,217.45 650.49,217.64 651.68,217.83 652.87,218.00 654.06,218.17 655.25,218.32 656.44,218.47 657.63,218.61 658.82,218.74 660.01,218.86 661.20,218.98 662.39,219.09 663.58,219.19 664.77,219.29 665.97,219.38 667.16,219.47 668.35,219.55 669.54,219.63 670.73,219.70 671.92,219.77 673.11,219.83 674.30,219.89 675.49,219.95 676.68,220.00 677.87,220.06 679.07,220.10 680.26,220.15 681.45,220.19 682.64,220.23 683.83,220.27 685.02,220.31 686.21,220.34 687.40,220.37 688.59,220.40 689.78,220.43 690.97,220.46 692.16,220.48 693.36,220.51 694.55,220.53 695.74,220.55 696.93,220.57 698.12,220.59 699.31,220.61 700.50,220.62" fill="none" stroke="#008000" stroke-width="0.8"/>
<polyline points="414.70,219.97 415.89,219.91 417.08,219.85 418.27,219.79 419.46,219.72 420.65,219.65 421.84,219.57 423.04,219.49 424.23,219.41 425.42,219.31 426.61,219.22 427.80,219.12 428.99,219.01 430.18,218.90 431.37,218.78 432.56,218.65 433.75,218.51 434.94,218.37 436.13,218.21 437.33,218.05 438.52,217.88 439.71,217.70 440.90,217.51 442.09,217.31 443.28,217.09 444.47,216.86 445.66,216.62 446.85,216.37 448.04,216.09 449.23,215.81 450.43,215.50 451.62,215.18 452.81,214.84 454.00,214.49 455.19,214.11 456.38,213.70 457.57,213.28 458.76,212.83 459.95,212.36 461.14,211.86 462.33,211.33 463.52,210.77 464.71,210.18 465.91,209.55 467.10,208.90 468.29,208.20 469.48,207.47 470.67,206.70 471.86,205.89 473.05,205.03 474.24,204.13 475.43,203.18 476.62,202.19 477.81,201.14 479.00,200.04 480.20,198.88 481.39,197.67 482.58,196.40 483.77,195.06 484.96,193.67 486.15,192.20 487.34,190.68 488.53,189.08 489.72,187.41 490.91,185.67 492.10,183.86 493.30,181.98 494.49,180.02 495.68,177.98 496.87,175.87 498.06,173.69 499.25,171.43 500.44,169.09 501.63,166.69 502.82,164.21 504.01,161.66 505.20,159.05 506.39,156.38 507.58,153.66 508.78,150.88 509.97,148.05 511.16,145.19 512.35,142.29 513.54,139.36 514.73,136.42 515.92,133.48 517.11,130.54 518.30,127.61 519.49,124.71 520.68,121.84 521.88,119.03 523.07,116.28 524.26,113.60 525.45,111.02 526.64,108.54 527.83,106.18 529.02,103.95 530.21,101.86 531.40,99.93 532.59,98.17 533.78,96.58 534.97,95.19 536.16,94.00 537.36,93.01 538.55,92.24 539.74,91.68 540.93,91.35 542.12,91.24 543.31,91.36 544.50,91.71 545.69,92.27 546.88,93.06 548.07,94.06 549.26,95.27 550.45,96.67 551.65,98.26 552.84,100.04 554.03,101.98 555.22,104.07 556.41,106.31 557.60,108.68 558.79,111.17 559.98,113.75 561.17,116.43 562.36,119.19 563.55,122.00 564.75,124.87 565.94,127.77 567.13,130.70 568.32,133.65 569.51,136.59 570.70,139.53 571.89,142.45 573.08,145.35 574.27,148.21 575.46,151.04 576.65,153.81 577.84,156.54 579.03,159.21 580.23,161.81 581.42,164.35 582.61,166.82 583.80,169.23 584.99,171.56 586.18,173.81 587.37,175.99 588.56,178.10 589.75,180.13 590.94,182.09 592.13,183.97 593.33,185.77 594.52,187.51 595.71,189.17 596.90,190.77 598.09,192.29 599.28,193.75 600.47,195.14 601.66,196.47 602.85,197.74 604.04,198.95 605.23,200.10 606.42,201.20 607.62,202.25 608.81,203.24 610.00,204.19 611.19,205.08 612.38,205.94 613.57,206.75 614.76,207.51 615.95,208.24 617.14,208.93 618.33,209.59 619.52,210.21 620.71,210.80 621.90,211.36 623.10,211.88 624.29,212.38 625.48,212.86 626.67,213.30 627.86,213.73 629.05,214.13 630.24,214.51 631.43,214.86 632.62,215.20 633.81,215.52 635.00,215.82 636.19,216.11 637.39,216.38 638.58,216.63 639.77,216.88 640.96,217.10 642.15,217.32 643.34,217.52 644.53,217.71 645.72,217.89 646.91,218.06 648.10,218.22 649.29,218.38 650.49,218.52 651.68,218.65 652.87,218.78 654.06,218.90 655.25,219.02 656.44,219.12 657.63,219.22 658.82,219.32 660.01,219.41 661.20,219.50 662.39,219.58 663.58,219.65 664.77,219.72 665.97,219.79 667.16,219.85 668.35,219.91 669.54,219.97 670.73,220.02 671.92,220.07 673.11,220.12 674.30,220.16 675.49,220.21 676.68,220.25 677.87,220.28 679.07,220.32 680.26,220.35 681.45,220.38 682.64,220.41 683.83,220.44 685.02,220.47 686.21,220.49 687.40,220.52 688.59,220.54 689.78,220.56 690.97,220.58 692.16,220.60 693.36,220.61 694.55,220.63 695.74,220.65 696.93,220.66 698.12,220.67 699.31,220.69 700.50,220.70" fill="none" stroke="#000080" stroke-width="0.8"/>
<line x1="542.41" y1="7.00" x2="542.41" y2="220.90" stroke="#0000ff" stroke-width="1" stroke-dasharray="2,2.1" opacity="0.6"/>
<line x1="544.37" y1="7.00" x2="544.37" y2="220.90" stroke="#008000" stroke-width="1" stroke-dasharray="2,2.1" opacity="0.6"/>
<line x1="544.70" y1="7.00" x2="544.70" y2="220.90" stroke="#000000" stroke-width="1" stroke-dasharray="2,2.1" opacity="0.6"/>
<line x1="546.90" y1="7.00" x2="546.90" y2="220.90" stroke="#ff0000" stroke-width="1" stroke-dasharray="2,2.1" opacity="0.6"/>
<line x1="547.23" y1="7.00" x2="547.23" y2="220.90" stroke="#ff00ff" stroke-width="1" stroke-dasharray="2,2.1" opacity="0.6"/>
<line x1="549.43" y1="7.00" x2="549.43" y2="220.90" stroke="#000080" stroke-width="1" stroke-dasharray="2,2.1" opacity="0.6"/>
<rect x="505.47" y="151.84" width="3.00" height="3.00" fill="#000000"/>
<rect x="513.64" y="127.80" width="3.00" height="3.00" fill="#000000"/>
<rect x="527.93" y="79.14" width="3.00" height="3.00" fill="#000000"/>
<rect x="538.14" y="49.72" width="3.00" height="3.00" fill="#000000"/>
<rect x="547.53" y="37.20" width="3.00" height="3.00" fill="#000000"/>
<rect x="562.63" y="56.07" width="3.00" height="3.00" fill="#000000"/>
<rect x="575.70" y="97.95" width="3.00" height="3.00" fill="#000000"/>
<circle cx="506.97" cy="151.78" r="1.58" fill="#ff0000"/>
<circle cx="515.14" cy="128.82" r="1.58" fill="#ff0000"/>
<circle cx="529.43" cy="86.00" r="1.58" fill="#ff0000"/>
<circle cx="539.64" cy="64.34" r="1.58" fill="#ff0000"/>
<circle cx="549.03" cy="59.80" r="1.58" fill="#ff0000"/>
<circle cx="564.13" cy="85.77" r="1.58" fill="#ff0000"/>
<circle cx="577.20" cy="124.88" r="1.58" fill="#ff0000"/>
<path d="M506.97,150.74L508.70,153.74L505.25,153.74Z" fill="#0000ff"/>
<path d="M515.14,129.91L516.86,132.91L513.41,132.91Z" fill="#0000ff"/>
<path d="M529.43,94.93L531.15,97.93L527.70,97.93Z" fill="#0000ff"/>
<path d="M539.64,81.46L541.36,84.46L537.91,84.46Z" fill="#0000ff"/>
<path d="M549.03,83.70L550.75,86.70L547.30,86.70Z" fill="#0000ff"/>
<path d="M564.13,112.82L565.86,115.82L562.41,115.82Z" fill="#0000ff"/>
<path d="M577.20,146.74L578.92,149.74L575.47,149.74Z" fill="#0000ff"/>
<path d="M506.97,151.48L508.70,148.48L505.25,148.48Z" fill="#ff00ff"/>
<path d="M515.14,127.36L516.86,124.36L513.41,124.36Z" fill="#ff00ff"/>
<path d="M529.43,81.34L531.15,78.34L527.70,78.34Z" fill="#ff00ff"/>
<path d="M539.64,56.83L541.36,53.83L537.91,53.83Z" fill="#ff00ff"/>
<path d="M549.03,50.09L550.75,47.09L547.30,47.09Z" fill="#ff00ff"/>
<path d="M564.13,75.42L565.86,72.42L562.41,72.42Z" fill="#ff00ff"/>
<path d="M577.20,116.84L578.92,113.84L575.47,113.84Z" fill="#ff00ff"/>
<path d="M506.97,150.71L508.62,152.66L506.97,154.61L505.32,152.66Z" fill="#008000"/>
<path d="M515.14,128.72L516.79,130.67L515.14,132.62L513.49,130.67Z" fill="#008000"/>
<path d="M529.43,89.19L531.08,91.14L529.43,93.09L527.78,91.14Z" fill="#008000"/>
<path d="M539.64,70.90L541.29,72.85L539.64,74.80L537.99,72.85Z" fill="#008000"/>
<path d="M549.03,69.15L550.68,71.10L549.03,73.05L547.38,71.10Z" fill="#008000"/>
<path d="M564.13,96.44L565.78,98.39L564.13,100.34L562.48,98.39Z" fill="#008000"/>
<path d="M577.20,133.32L578.85,135.27L577.20,137.22L575.55,135.27Z" fill="#008000"/>
<path d="M505.17,155.07L508.17,153.34L508.17,156.79Z" fill="#000080"/>
<path d="M513.34,135.41L516.34,133.69L516.34,137.14Z" fill="#000080"/>
<path d="M527.63,103.21L530.63,101.49L530.63,104.94Z" fill="#000080"/>
<path d="M537.84,91.72L540.84,90.00L540.84,93.45Z" fill="#000080"/>
<path d="M547.23,95.01L550.23,93.28L550.23,96.73Z" fill="#000080"/>
<path d="M562.33,123.39L565.33,121.67L565.33,125.12Z" fill="#000080"/>
<path d="M575.40,155.07L578.40,153.34L578.40,156.79Z" fill="#000080"/>
<rect x="57.50" y="272.30" width="285.60" height="214.10" fill="none" stroke="#858585" stroke-width="1.05"/>
<line x1="98.30" y1="486.40" x2="98.30" y2="488.90" stroke="#858585" stroke-width="1"/>
<line x1="179.90" y1="486.40" x2="179.90" y2="488.90" stroke="#858585" stroke-width="1"/>
<line x1="261.50" y1="486.40" x2="261.50" y2="488.90" stroke="#858585" stroke-width="1"/>
<line x1="343.10" y1="486.40" x2="343.10" y2="488.90" stroke="#858585" stroke-width="1"/>
<line x1="139.10" y1="486.40" x2="139.10" y2="487.90" stroke="#858585" stroke-width="0.8"/>
<line x1="220.70" y1="486.40" x2="220.70" y2="487.90" stroke="#858585" stroke-width="0.8"/>
<line x1="302.30" y1="486.40" x2="302.30" y2="487.90" stroke="#858585" stroke-width="0.8"/>
<text transform="translate(98.30,501.40) scale(1,1.12)" font-size="13" text-anchor="middle">20</text>
<text transform="translate(179.90,501.40) scale(1,1.12)" font-size="13" text-anchor="middle">30</text>
<text transform="translate(261.50,501.40) scale(1,1.12)" font-size="13" text-anchor="middle">40</text>
<text transform="translate(343.10,501.40) scale(1,1.12)" font-size="13" text-anchor="middle">50</text>
<line x1="55.00" y1="486.40" x2="57.50" y2="486.40" stroke="#858585" stroke-width="1"/>
<text transform="translate(53.10,490.60) scale(1,1.15)" font-size="13" text-anchor="end">0.00</text>
<line x1="55.00" y1="441.33" x2="57.50" y2="441.33" stroke="#858585" stroke-width="1"/>
<text transform="translate(53.10,445.53) scale(1,1.15)" font-size="13" text-anchor="end">0.04</text>
<line x1="55.00" y1="396.25" x2="57.50" y2="396.25" stroke="#858585" stroke-width="1"/>
<text transform="translate(53.10,400.45) scale(1,1.15)" font-size="13" text-anchor="end">0.08</text>
<line x1="55.00" y1="351.18" x2="57.50" y2="351.18" stroke="#858585" stroke-width="1"/>
<text transform="translate(53.10,355.38) scale(1,1.15)" font-size="13" text-anchor="end">0.12</text>
<line x1="55.00" y1="306.11" x2="57.50" y2="306.11" stroke="#858585" stroke-width="1"/>
<text transform="translate(53.10,310.31) scale(1,1.15)" font-size="13" text-anchor="end">0.16</text>
<line x1="56.00" y1="463.86" x2="57.50" y2="463.86" stroke="#858585" stroke-width="0.8"/>
<line x1="56.00" y1="418.79" x2="57.50" y2="418.79" stroke="#858585" stroke-width="0.8"/>
<line x1="56.00" y1="373.72" x2="57.50" y2="373.72" stroke="#858585" stroke-width="0.8"/>
<line x1="56.00" y1="328.64" x2="57.50" y2="328.64" stroke="#858585" stroke-width="0.8"/>
<line x1="56.00" y1="283.57" x2="57.50" y2="283.57" stroke="#858585" stroke-width="0.8"/>
<text x="200.30" y="521.90" font-size="14" text-anchor="middle">E* (KJ/mol)</text>
<text transform="translate(12.30,395.80) rotate(-90)" font-size="14" text-anchor="middle">F(E*) (mg·mol/(g·KJ))</text>
<text x="66.20" y="291.40" font-size="18.5">c</text>
<text transform="translate(87.20,291.40) scale(1,1.05)" font-size="15.7">2.50</text>
<text x="118.60" y="291.40" font-size="15.7">mg·C/L HA</text>
<rect x="233.50" y="281.20" width="3.20" height="3.20" fill="#000000"/>
<text x="248.50" y="286.00" font-size="9.6" fill="#1a1a1a">0.10 mmol/L NaNO<tspan font-size="6.3" dy="3">3</tspan></text>
<circle cx="235.10" cy="297.90" r="1.68" fill="#ff0000"/>
<text x="248.50" y="301.10" font-size="9.6" fill="#1a1a1a">1.00 mmol/L NaNO<tspan font-size="6.3" dy="3">3</tspan></text>
<path d="M235.10,311.08L236.94,314.28L233.26,314.28Z" fill="#0000ff"/>
<text x="248.50" y="316.20" font-size="9.6" fill="#1a1a1a">10.0 mmol/L NaNO<tspan font-size="6.3" dy="3">3</tspan></text>
<path d="M235.10,330.02L236.94,326.82L233.26,326.82Z" fill="#ff00ff"/>
<text x="248.50" y="331.30" font-size="9.6" fill="#1a1a1a">0.03 mmol/L Ca(NO<tspan font-size="6.3" dy="3">3</tspan><tspan dy="-3">)</tspan><tspan font-size="6.3" dy="3">2</tspan></text>
<path d="M235.10,341.12L236.86,343.20L235.10,345.28L233.34,343.20Z" fill="#008000"/>
<text x="248.50" y="346.40" font-size="9.6" fill="#1a1a1a">0.33 mmol/L Ca(NO<tspan font-size="6.3" dy="3">3</tspan><tspan dy="-3">)</tspan><tspan font-size="6.3" dy="3">2</tspan></text>
<path d="M233.18,358.30L236.38,356.46L236.38,360.14Z" fill="#000080"/>
<text x="248.50" y="361.50" font-size="9.6" fill="#1a1a1a">3.33 mmol/L Ca(NO<tspan font-size="6.3" dy="3">3</tspan><tspan dy="-3">)</tspan><tspan font-size="6.3" dy="3">2</tspan></text>
<polyline points="57.50,485.51 58.69,485.45 59.88,485.40 61.07,485.34 62.26,485.27 63.45,485.20 64.64,485.13 65.83,485.06 67.02,484.98 68.21,484.89 69.40,484.80 70.59,484.71 71.78,484.60 72.97,484.50 74.16,484.38 75.35,484.26 76.54,484.13 77.73,484.00 78.92,483.86 80.11,483.70 81.30,483.54 82.49,483.37 83.68,483.19 84.87,483.00 86.06,482.80 87.25,482.59 88.44,482.36 89.63,482.12 90.82,481.87 92.01,481.60 93.20,481.31 94.39,481.01 95.58,480.69 96.77,480.36 97.96,480.00 99.15,479.62 100.34,479.22 101.53,478.80 102.72,478.36 103.91,477.88 105.10,477.39 106.29,476.86 107.48,476.30 108.67,475.71 109.86,475.09 111.05,474.44 112.24,473.74 113.43,473.01 114.62,472.24 115.81,471.42 117.00,470.56 118.19,469.66 119.38,468.70 120.57,467.69 121.76,466.63 122.95,465.51 124.14,464.34 125.33,463.10 126.52,461.80 127.71,460.43 128.90,458.99 130.09,457.48 131.28,455.89 132.47,454.23 133.66,452.48 134.85,450.66 136.04,448.74 137.23,446.74 138.42,444.65 139.61,442.46 140.80,440.18 141.99,437.80 143.18,435.32 144.37,432.74 145.56,430.06 146.75,427.27 147.94,424.39 149.13,421.39 150.32,418.30 151.51,415.10 152.70,411.80 153.89,408.41 155.08,404.91 156.27,401.33 157.46,397.66 158.65,393.91 159.84,390.08 161.03,386.18 162.22,382.22 163.41,378.21 164.60,374.16 165.79,370.08 166.98,365.98 168.17,361.88 169.36,357.79 170.55,353.72 171.74,349.69 172.93,345.72 174.12,341.82 175.31,338.01 176.50,334.32 177.69,330.75 178.88,327.33 180.07,324.07 181.26,321.00 182.45,318.13 183.64,315.47 184.83,313.06 186.02,310.89 187.21,308.98 188.40,307.35 189.59,306.00 190.78,304.95 191.97,304.20 193.16,303.76 194.35,303.63 195.54,303.81 196.73,304.29 197.92,305.09 199.11,306.18 200.30,307.57 201.49,309.25 202.68,311.19 203.87,313.40 205.06,315.85 206.25,318.54 207.44,321.44 208.63,324.54 209.82,327.83 211.01,331.27 212.20,334.86 213.39,338.57 214.58,342.39 215.77,346.30 216.96,350.28 218.15,354.32 219.34,358.39 220.53,362.49 221.72,366.59 222.91,370.69 224.10,374.77 225.29,378.81 226.48,382.81 227.67,386.76 228.86,390.65 230.05,394.47 231.24,398.21 232.43,401.87 233.62,405.44 234.81,408.92 236.00,412.30 237.19,415.58 238.38,418.76 239.57,421.84 240.76,424.82 241.95,427.69 243.14,430.46 244.33,433.13 245.52,435.70 246.71,438.16 247.90,440.52 249.09,442.79 250.28,444.96 251.47,447.04 252.66,449.03 253.85,450.93 255.04,452.75 256.23,454.48 257.42,456.13 258.61,457.71 259.80,459.21 260.99,460.64 262.18,461.99 263.37,463.29 264.56,464.52 265.75,465.68 266.94,466.79 268.13,467.85 269.32,468.84 270.51,469.79 271.70,470.69 272.89,471.55 274.08,472.35 275.27,473.12 276.46,473.85 277.65,474.53 278.84,475.19 280.03,475.80 281.22,476.39 282.41,476.94 283.60,477.46 284.79,477.96 285.98,478.42 287.17,478.87 288.36,479.29 289.55,479.68 290.74,480.06 291.93,480.41 293.12,480.74 294.31,481.06 295.50,481.36 296.69,481.64 297.88,481.91 299.07,482.16 300.26,482.40 301.45,482.62 302.64,482.83 303.83,483.03 305.02,483.22 306.21,483.40 307.40,483.57 308.59,483.73 309.78,483.88 310.97,484.02 312.16,484.15 313.35,484.28 314.54,484.40 315.73,484.51 316.92,484.62 318.11,484.72 319.30,484.81 320.49,484.90 321.68,484.99 322.87,485.07 324.06,485.14 325.25,485.21 326.44,485.28 327.63,485.34 328.82,485.40 330.01,485.46 331.20,485.51 332.39,485.56 333.58,485.61 334.77,485.66 335.96,485.70 337.15,485.74 338.34,485.77 339.53,485.81 340.72,485.84 341.91,485.88 343.10,485.90" fill="none" stroke="#000000" stroke-width="0.8"/>
<polyline points="57.50,485.53 58.69,485.48 59.88,485.42 61.07,485.36 62.26,485.30 63.45,485.24 64.64,485.17 65.83,485.09 67.02,485.02 68.21,484.93 69.40,484.85 70.59,484.75 71.78,484.65 72.97,484.55 74.16,484.44 75.35,484.32 76.54,484.20 77.73,484.07 78.92,483.93 80.11,483.78 81.30,483.62 82.49,483.46 83.68,483.28 84.87,483.10 86.06,482.90 87.25,482.70 88.44,482.48 89.63,482.24 90.82,482.00 92.01,481.74 93.20,481.46 94.39,481.17 95.58,480.86 96.77,480.53 97.96,480.19 99.15,479.82 100.34,479.44 101.53,479.03 102.72,478.60 103.91,478.14 105.10,477.66 106.29,477.15 107.48,476.61 108.67,476.04 109.86,475.44 111.05,474.81 112.24,474.14 113.43,473.44 114.62,472.69 115.81,471.91 117.00,471.08 118.19,470.21 119.38,469.29 120.57,468.32 121.76,467.31 122.95,466.24 124.14,465.11 125.33,463.93 126.52,462.68 127.71,461.38 128.90,460.00 130.09,458.57 131.28,457.06 132.47,455.48 133.66,453.82 134.85,452.09 136.04,450.29 137.23,448.40 138.42,446.42 139.61,444.37 140.80,442.23 141.99,440.00 143.18,437.68 144.37,435.28 145.56,432.78 146.75,430.20 147.94,427.53 149.13,424.77 150.32,421.93 151.51,419.00 152.70,415.99 153.89,412.90 155.08,409.73 156.27,406.50 157.46,403.20 158.65,399.84 159.84,396.44 161.03,392.98 162.22,389.50 163.41,385.99 164.60,382.47 165.79,378.94 166.98,375.43 168.17,371.93 169.36,368.47 170.55,365.07 171.74,361.73 172.93,358.47 174.12,355.30 175.31,352.25 176.50,349.33 177.69,346.55 178.88,343.93 180.07,341.48 181.26,339.23 182.45,337.18 183.64,335.34 184.83,333.73 186.02,332.36 187.21,331.23 188.40,330.36 189.59,329.75 190.78,329.40 191.97,329.32 193.16,329.51 194.35,329.96 195.54,330.68 196.73,331.65 197.92,332.88 199.11,334.34 200.30,336.05 201.49,337.97 202.68,340.11 203.87,342.44 205.06,344.96 206.25,347.64 207.44,350.48 208.63,353.46 209.82,356.55 211.01,359.76 212.20,363.05 213.39,366.42 214.58,369.85 215.77,373.33 216.96,376.83 218.15,380.35 219.34,383.88 220.53,387.40 221.72,390.90 222.91,394.37 224.10,397.80 225.29,401.19 226.48,404.53 227.67,407.80 228.86,411.01 230.05,414.14 231.24,417.20 232.43,420.18 233.62,423.07 234.81,425.89 236.00,428.61 237.19,431.25 238.38,433.79 239.57,436.25 240.76,438.62 241.95,440.90 243.14,443.09 244.33,445.20 245.52,447.22 246.71,449.16 247.90,451.02 249.09,452.80 250.28,454.50 251.47,456.12 252.66,457.67 253.85,459.15 255.04,460.56 256.23,461.91 257.42,463.19 258.61,464.41 259.80,465.57 260.99,466.67 262.18,467.72 263.37,468.72 264.56,469.66 265.75,470.56 266.94,471.42 268.13,472.23 269.32,473.00 270.51,473.72 271.70,474.41 272.89,475.07 274.08,475.69 275.27,476.27 276.46,476.83 277.65,477.36 278.84,477.86 280.03,478.33 281.22,478.77 282.41,479.20 283.60,479.59 284.79,479.97 285.98,480.33 287.17,480.67 288.36,480.99 289.55,481.29 290.74,481.57 291.93,481.84 293.12,482.10 294.31,482.34 295.50,482.57 296.69,482.78 297.88,482.98 299.07,483.17 300.26,483.36 301.45,483.53 302.64,483.69 303.83,483.84 305.02,483.98 306.21,484.12 307.40,484.25 308.59,484.37 309.78,484.48 310.97,484.59 312.16,484.69 313.35,484.79 314.54,484.88 315.73,484.97 316.92,485.05 318.11,485.12 319.30,485.20 320.49,485.26 321.68,485.33 322.87,485.39 324.06,485.45 325.25,485.50 326.44,485.55 327.63,485.60 328.82,485.64 330.01,485.69 331.20,485.73 332.39,485.76 333.58,485.80 334.77,485.83 335.96,485.87 337.15,485.90 338.34,485.93 339.53,485.95 340.72,485.98 341.91,486.00 343.10,486.02" fill="none" stroke="#ff0000" stroke-width="0.8"/>
<polyline points="57.50,485.38 58.69,485.32 59.88,485.25 61.07,485.19 62.26,485.11 63.45,485.04 64.64,484.96 65.83,484.87 67.02,484.78 68.21,484.68 69.40,484.58 70.59,484.47 71.78,484.35 72.97,484.23 74.16,484.10 75.35,483.97 76.54,483.82 77.73,483.67 78.92,483.51 80.11,483.33 81.30,483.15 82.49,482.96 83.68,482.76 84.87,482.54 86.06,482.31 87.25,482.07 88.44,481.81 89.63,481.54 90.82,481.26 92.01,480.95 93.20,480.63 94.39,480.29 95.58,479.94 96.77,479.56 97.96,479.16 99.15,478.74 100.34,478.29 101.53,477.82 102.72,477.32 103.91,476.79 105.10,476.24 106.29,475.65 107.48,475.03 108.67,474.38 109.86,473.69 111.05,472.97 112.24,472.20 113.43,471.40 114.62,470.55 115.81,469.66 117.00,468.72 118.19,467.73 119.38,466.69 120.57,465.60 121.76,464.46 122.95,463.25 124.14,461.99 125.33,460.67 126.52,459.29 127.71,457.84 128.90,456.32 130.09,454.73 131.28,453.08 132.47,451.35 133.66,449.54 134.85,447.67 136.04,445.71 137.23,443.68 138.42,441.57 139.61,439.39 140.80,437.12 141.99,434.78 143.18,432.36 144.37,429.87 145.56,427.30 146.75,424.66 147.94,421.95 149.13,419.18 150.32,416.34 151.51,413.45 152.70,410.51 153.89,407.52 155.08,404.49 156.27,401.44 157.46,398.36 158.65,395.27 159.84,392.18 161.03,389.10 162.22,386.04 163.41,383.01 164.60,380.02 165.79,377.09 166.98,374.23 168.17,371.46 169.36,368.79 170.55,366.23 171.74,363.79 172.93,361.49 174.12,359.35 175.31,357.38 176.50,355.58 177.69,353.97 178.88,352.56 180.07,351.36 181.26,350.37 182.45,349.61 183.64,349.08 184.83,348.77 186.02,348.70 187.21,348.87 188.40,349.27 189.59,349.90 190.78,350.75 191.97,351.83 193.16,353.11 194.35,354.61 195.54,356.30 196.73,358.17 197.92,360.21 199.11,362.42 200.30,364.78 201.49,367.27 202.68,369.88 203.87,372.59 205.06,375.40 206.25,378.29 207.44,381.24 208.63,384.25 209.82,387.29 211.01,390.37 212.20,393.45 213.39,396.55 214.58,399.63 215.77,402.70 216.96,405.74 218.15,408.75 219.34,411.72 220.53,414.64 221.72,417.51 222.91,420.32 224.10,423.07 225.29,425.75 226.48,428.36 227.67,430.90 228.86,433.37 230.05,435.75 231.24,438.06 232.43,440.30 233.62,442.45 234.81,444.53 236.00,446.53 237.19,448.45 238.38,450.29 239.57,452.07 240.76,453.77 241.95,455.39 243.14,456.95 244.33,458.44 245.52,459.86 246.71,461.22 247.90,462.52 249.09,463.76 250.28,464.93 251.47,466.06 252.66,467.13 253.85,468.14 255.04,469.11 256.23,470.03 257.42,470.90 258.61,471.73 259.80,472.52 260.99,473.27 262.18,473.98 263.37,474.65 264.56,475.29 265.75,475.90 266.94,476.47 268.13,477.01 269.32,477.53 270.51,478.01 271.70,478.48 272.89,478.91 274.08,479.33 275.27,479.72 276.46,480.09 277.65,480.44 278.84,480.77 280.03,481.08 281.22,481.38 282.41,481.66 283.60,481.92 284.79,482.17 285.98,482.41 287.17,482.63 288.36,482.84 289.55,483.04 290.74,483.23 291.93,483.41 293.12,483.57 294.31,483.73 295.50,483.88 296.69,484.02 297.88,484.16 299.07,484.28 300.26,484.40 301.45,484.51 302.64,484.62 303.83,484.72 305.02,484.82 306.21,484.90 307.40,484.99 308.59,485.07 309.78,485.14 310.97,485.21 312.16,485.28 313.35,485.34 314.54,485.40 315.73,485.46 316.92,485.51 318.11,485.56 319.30,485.61 320.49,485.66 321.68,485.70 322.87,485.74 324.06,485.77 325.25,485.81 326.44,485.84 327.63,485.87 328.82,485.90 330.01,485.93 331.20,485.96 332.39,485.98 333.58,486.01 334.77,486.03 335.96,486.05 337.15,486.07 338.34,486.09 339.53,486.11 340.72,486.12 341.91,486.14 343.10,486.15" fill="none" stroke="#0000ff" stroke-width="0.8"/>
<polyline points="57.50,485.41 58.69,485.35 59.88,485.29 61.07,485.22 62.26,485.15 63.45,485.08 64.64,485.00 65.83,484.92 67.02,484.83 68.21,484.73 69.40,484.63 70.59,484.53 71.78,484.42 72.97,484.30 74.16,484.17 75.35,484.04 76.54,483.90 77.73,483.75 78.92,483.59 80.11,483.43 81.30,483.25 82.49,483.06 83.68,482.86 84.87,482.65 86.06,482.43 87.25,482.20 88.44,481.95 89.63,481.68 90.82,481.40 92.01,481.11 93.20,480.79 94.39,480.46 95.58,480.11 96.77,479.74 97.96,479.35 99.15,478.94 100.34,478.50 101.53,478.04 102.72,477.55 103.91,477.03 105.10,476.48 106.29,475.91 107.48,475.30 108.67,474.65 109.86,473.97 111.05,473.26 112.24,472.50 113.43,471.70 114.62,470.86 115.81,469.97 117.00,469.03 118.19,468.05 119.38,467.01 120.57,465.92 121.76,464.76 122.95,463.55 124.14,462.28 125.33,460.94 126.52,459.54 127.71,458.06 128.90,456.51 130.09,454.89 131.28,453.19 132.47,451.41 133.66,449.54 134.85,447.59 136.04,445.56 137.23,443.43 138.42,441.21 139.61,438.90 140.80,436.49 141.99,433.99 143.18,431.39 144.37,428.69 145.56,425.89 146.75,423.00 147.94,420.01 149.13,416.92 150.32,413.74 151.51,410.47 152.70,407.11 153.89,403.67 155.08,400.14 156.27,396.55 157.46,392.89 158.65,389.16 159.84,385.39 161.03,381.57 162.22,377.72 163.41,373.85 164.60,369.98 165.79,366.10 166.98,362.25 168.17,358.43 169.36,354.65 170.55,350.94 171.74,347.32 172.93,343.79 174.12,340.37 175.31,337.09 176.50,333.96 177.69,331.00 178.88,328.22 180.07,325.65 181.26,323.29 182.45,321.16 183.64,319.27 184.83,317.65 186.02,316.28 187.21,315.20 188.40,314.40 189.59,313.89 190.78,313.66 191.97,313.74 193.16,314.10 194.35,314.76 195.54,315.70 196.73,316.93 197.92,318.42 199.11,320.18 200.30,322.19 201.49,324.43 202.68,326.90 203.87,329.58 205.06,332.45 206.25,335.50 207.44,338.71 208.63,342.05 209.82,345.53 211.01,349.11 212.20,352.78 213.39,356.52 214.58,360.32 215.77,364.16 216.96,368.03 218.15,371.90 219.34,375.78 220.53,379.64 221.72,383.47 222.91,387.27 224.10,391.02 225.29,394.71 226.48,398.35 227.67,401.91 228.86,405.39 230.05,408.79 231.24,412.11 232.43,415.33 233.62,418.47 234.81,421.51 236.00,424.45 237.19,427.29 238.38,430.04 239.57,432.69 240.76,435.24 241.95,437.70 243.14,440.06 244.33,442.32 245.52,444.50 246.71,446.58 247.90,448.57 249.09,450.48 250.28,452.30 251.47,454.05 252.66,455.71 253.85,457.29 255.04,458.80 256.23,460.25 257.42,461.62 258.61,462.92 259.80,464.16 260.99,465.34 262.18,466.47 263.37,467.53 264.56,468.54 265.75,469.51 266.94,470.42 268.13,471.28 269.32,472.10 270.51,472.88 271.70,473.62 272.89,474.32 274.08,474.98 275.27,475.60 276.46,476.20 277.65,476.76 278.84,477.29 280.03,477.79 281.22,478.27 282.41,478.72 283.60,479.15 284.79,479.55 285.98,479.93 287.17,480.29 288.36,480.63 289.55,480.95 290.74,481.26 291.93,481.54 293.12,481.82 294.31,482.07 295.50,482.31 296.69,482.54 297.88,482.76 299.07,482.96 300.26,483.16 301.45,483.34 302.64,483.51 303.83,483.67 305.02,483.83 306.21,483.97 307.40,484.11 308.59,484.24 309.78,484.36 310.97,484.47 312.16,484.58 313.35,484.68 314.54,484.78 315.73,484.87 316.92,484.96 318.11,485.04 319.30,485.12 320.49,485.19 321.68,485.26 322.87,485.32 324.06,485.38 325.25,485.44 326.44,485.50 327.63,485.55 328.82,485.59 330.01,485.64 331.20,485.68 332.39,485.72 333.58,485.76 334.77,485.80 335.96,485.83 337.15,485.86 338.34,485.89 339.53,485.92 340.72,485.95 341.91,485.98 343.10,486.00" fill="none" stroke="#ff00ff" stroke-width="0.8"/>
<polyline points="57.50,485.47 58.69,485.41 59.88,485.35 61.07,485.29 62.26,485.22 63.45,485.15 64.64,485.08 65.83,485.00 67.02,484.92 68.21,484.83 69.40,484.73 70.59,484.63 71.78,484.53 72.97,484.42 74.16,484.30 75.35,484.17 76.54,484.04 77.73,483.90 78.92,483.75 80.11,483.59 81.30,483.42 82.49,483.25 83.68,483.06 84.87,482.86 86.06,482.65 87.25,482.43 88.44,482.20 89.63,481.95 90.82,481.68 92.01,481.40 93.20,481.11 94.39,480.80 95.58,480.47 96.77,480.12 97.96,479.75 99.15,479.36 100.34,478.95 101.53,478.51 102.72,478.05 103.91,477.56 105.10,477.05 106.29,476.51 107.48,475.93 108.67,475.33 109.86,474.69 111.05,474.02 112.24,473.30 113.43,472.55 114.62,471.76 115.81,470.93 117.00,470.05 118.19,469.13 119.38,468.16 120.57,467.13 121.76,466.05 122.95,464.92 124.14,463.73 125.33,462.48 126.52,461.17 127.71,459.79 128.90,458.35 130.09,456.84 131.28,455.25 132.47,453.60 133.66,451.86 134.85,450.05 136.04,448.16 137.23,446.19 138.42,444.14 139.61,442.01 140.80,439.78 141.99,437.48 143.18,435.08 144.37,432.61 145.56,430.04 146.75,427.39 147.94,424.66 149.13,421.84 150.32,418.95 151.51,415.98 152.70,412.93 153.89,409.82 155.08,406.64 156.27,403.41 157.46,400.12 158.65,396.79 159.84,393.43 161.03,390.04 162.22,386.64 163.41,383.23 164.60,379.82 165.79,376.44 166.98,373.09 168.17,369.78 169.36,366.54 170.55,363.36 171.74,360.28 172.93,357.31 174.12,354.45 175.31,351.73 176.50,349.17 177.69,346.76 178.88,344.54 180.07,342.51 181.26,340.69 182.45,339.09 183.64,337.71 184.83,336.57 186.02,335.67 187.21,335.03 188.40,334.64 189.59,334.50 190.78,334.63 191.97,335.01 193.16,335.65 194.35,336.53 195.54,337.67 196.73,339.03 197.92,340.63 199.11,342.45 200.30,344.47 201.49,346.68 202.68,349.08 203.87,351.64 205.06,354.36 206.25,357.21 207.44,360.18 208.63,363.26 209.82,366.43 211.01,369.67 212.20,372.97 213.39,376.32 214.58,379.71 215.77,383.11 216.96,386.52 218.15,389.93 219.34,393.32 220.53,396.68 221.72,400.01 222.91,403.30 224.10,406.53 225.29,409.71 226.48,412.83 227.67,415.87 228.86,418.85 230.05,421.74 231.24,424.56 232.43,427.30 233.62,429.95 234.81,432.52 236.00,435.00 237.19,437.40 238.38,439.71 239.57,441.93 240.76,444.07 241.95,446.13 243.14,448.10 244.33,449.99 245.52,451.80 246.71,453.54 247.90,455.20 249.09,456.78 250.28,458.30 251.47,459.74 252.66,461.12 253.85,462.44 255.04,463.69 256.23,464.88 257.42,466.02 258.61,467.09 259.80,468.12 260.99,469.10 262.18,470.02 263.37,470.90 264.56,471.74 265.75,472.53 266.94,473.28 268.13,473.99 269.32,474.67 270.51,475.31 271.70,475.91 272.89,476.49 274.08,477.03 275.27,477.55 276.46,478.04 277.65,478.50 278.84,478.93 280.03,479.35 281.22,479.74 282.41,480.11 283.60,480.46 284.79,480.79 285.98,481.10 287.17,481.39 288.36,481.67 289.55,481.94 290.74,482.19 291.93,482.42 293.12,482.65 294.31,482.86 295.50,483.05 296.69,483.24 297.88,483.42 299.07,483.59 300.26,483.74 301.45,483.89 302.64,484.03 303.83,484.17 305.02,484.29 306.21,484.41 307.40,484.52 308.59,484.63 309.78,484.73 310.97,484.82 312.16,484.91 313.35,485.00 314.54,485.08 315.73,485.15 316.92,485.22 318.11,485.29 319.30,485.35 320.49,485.41 321.68,485.47 322.87,485.52 324.06,485.57 325.25,485.62 326.44,485.66 327.63,485.70 328.82,485.74 330.01,485.78 331.20,485.81 332.39,485.85 333.58,485.88 334.77,485.91 335.96,485.94 337.15,485.96 338.34,485.99 339.53,486.01 340.72,486.03 341.91,486.05 343.10,486.07" fill="none" stroke="#008000" stroke-width="0.8"/>
<polyline points="57.50,485.34 58.69,485.28 59.88,485.21 61.07,485.14 62.26,485.06 63.45,484.98 64.64,484.90 65.83,484.81 67.02,484.72 68.21,484.61 69.40,484.51 70.59,484.40 71.78,484.28 72.97,484.15 74.16,484.02 75.35,483.87 76.54,483.72 77.73,483.57 78.92,483.40 80.11,483.22 81.30,483.03 82.49,482.83 83.68,482.62 84.87,482.40 86.06,482.16 87.25,481.91 88.44,481.64 89.63,481.36 90.82,481.07 92.01,480.76 93.20,480.42 94.39,480.07 95.58,479.70 96.77,479.31 97.96,478.90 99.15,478.46 100.34,478.00 101.53,477.52 102.72,477.00 103.91,476.46 105.10,475.89 106.29,475.29 107.48,474.65 108.67,473.98 109.86,473.27 111.05,472.53 112.24,471.74 113.43,470.92 114.62,470.05 115.81,469.14 117.00,468.18 118.19,467.17 119.38,466.11 120.57,464.99 121.76,463.83 122.95,462.60 124.14,461.32 125.33,459.98 126.52,458.57 127.71,457.11 128.90,455.57 130.09,453.97 131.28,452.30 132.47,450.57 133.66,448.76 134.85,446.88 136.04,444.92 137.23,442.90 138.42,440.80 139.61,438.63 140.80,436.39 141.99,434.08 143.18,431.70 144.37,429.25 145.56,426.74 146.75,424.17 147.94,421.54 149.13,418.86 150.32,416.13 151.51,413.36 152.70,410.55 153.89,407.72 155.08,404.86 156.27,401.99 157.46,399.12 158.65,396.26 159.84,393.41 161.03,390.59 162.22,387.81 163.41,385.09 164.60,382.43 165.79,379.85 166.98,377.36 168.17,374.97 169.36,372.70 170.55,370.55 171.74,368.55 172.93,366.70 174.12,365.02 175.31,363.51 176.50,362.19 177.69,361.05 178.88,360.12 180.07,359.40 181.26,358.88 182.45,358.59 183.64,358.51 184.83,358.64 186.02,358.99 187.21,359.56 188.40,360.34 189.59,361.32 190.78,362.50 191.97,363.87 193.16,365.43 194.35,367.15 195.54,369.04 196.73,371.08 197.92,373.26 199.11,375.56 200.30,377.97 201.49,380.49 202.68,383.09 203.87,385.77 205.06,388.51 206.25,391.30 207.44,394.12 208.63,396.97 209.82,399.84 211.01,402.71 212.20,405.58 213.39,408.43 214.58,411.26 215.77,414.06 216.96,416.82 218.15,419.54 219.34,422.21 220.53,424.82 221.72,427.38 222.91,429.87 224.10,432.30 225.29,434.67 226.48,436.96 227.67,439.18 228.86,441.34 230.05,443.42 231.24,445.42 232.43,447.36 233.62,449.22 234.81,451.01 236.00,452.73 237.19,454.38 238.38,455.97 239.57,457.48 240.76,458.93 241.95,460.32 243.14,461.65 244.33,462.92 245.52,464.13 246.71,465.28 247.90,466.38 249.09,467.42 250.28,468.42 251.47,469.37 252.66,470.27 253.85,471.13 255.04,471.94 256.23,472.72 257.42,473.45 258.61,474.15 259.80,474.81 260.99,475.44 262.18,476.04 263.37,476.60 264.56,477.13 265.75,477.64 266.94,478.12 268.13,478.58 269.32,479.01 270.51,479.41 271.70,479.80 272.89,480.16 274.08,480.51 275.27,480.84 276.46,481.14 277.65,481.44 278.84,481.71 280.03,481.97 281.22,482.22 282.41,482.45 283.60,482.67 284.79,482.88 285.98,483.08 287.17,483.26 288.36,483.44 289.55,483.61 290.74,483.76 291.93,483.91 293.12,484.05 294.31,484.18 295.50,484.31 296.69,484.42 297.88,484.54 299.07,484.64 300.26,484.74 301.45,484.83 302.64,484.92 303.83,485.00 305.02,485.08 306.21,485.16 307.40,485.23 308.59,485.29 309.78,485.36 310.97,485.42 312.16,485.47 313.35,485.52 314.54,485.57 315.73,485.62 316.92,485.66 318.11,485.71 319.30,485.74 320.49,485.78 321.68,485.82 322.87,485.85 324.06,485.88 325.25,485.91 326.44,485.94 327.63,485.96 328.82,485.99 330.01,486.01 331.20,486.03 332.39,486.05 333.58,486.07 334.77,486.09 335.96,486.11 337.15,486.13 338.34,486.14 339.53,486.16 340.72,486.17 341.91,486.18 343.10,486.20" fill="none" stroke="#000080" stroke-width="0.8"/>
<line x1="183.08" y1="272.30" x2="183.08" y2="486.40" stroke="#0000ff" stroke-width="1" stroke-dasharray="2,2.1" opacity="0.6"/>
<line x1="185.37" y1="272.30" x2="185.37" y2="486.40" stroke="#008000" stroke-width="1" stroke-dasharray="2,2.1" opacity="0.6"/>
<line x1="187.16" y1="272.30" x2="187.16" y2="486.40" stroke="#000000" stroke-width="1" stroke-dasharray="2,2.1" opacity="0.6"/>
<line x1="190.18" y1="272.30" x2="190.18" y2="486.40" stroke="#ff0000" stroke-width="1" stroke-dasharray="2,2.1" opacity="0.6"/>
<line x1="190.51" y1="272.30" x2="190.51" y2="486.40" stroke="#ff00ff" stroke-width="1" stroke-dasharray="2,2.1" opacity="0.6"/>
<line x1="193.45" y1="272.30" x2="193.45" y2="486.40" stroke="#000080" stroke-width="1" stroke-dasharray="2,2.1" opacity="0.6"/>
<rect x="148.21" y="418.40" width="3.00" height="3.00" fill="#000000"/>
<rect x="156.37" y="394.88" width="3.00" height="3.00" fill="#000000"/>
<rect x="171.87" y="342.76" width="3.00" height="3.00" fill="#000000"/>
<rect x="180.85" y="316.87" width="3.00" height="3.00" fill="#000000"/>
<rect x="190.64" y="302.62" width="3.00" height="3.00" fill="#000000"/>
<rect x="204.10" y="315.55" width="3.00" height="3.00" fill="#000000"/>
<rect x="219.20" y="361.58" width="3.00" height="3.00" fill="#000000"/>
<circle cx="149.71" cy="423.40" r="1.58" fill="#ff0000"/>
<circle cx="157.87" cy="402.05" r="1.58" fill="#ff0000"/>
<circle cx="173.37" cy="357.28" r="1.58" fill="#ff0000"/>
<circle cx="182.35" cy="337.34" r="1.58" fill="#ff0000"/>
<circle cx="192.14" cy="329.33" r="1.58" fill="#ff0000"/>
<circle cx="205.60" cy="346.16" r="1.58" fill="#ff0000"/>
<circle cx="220.70" cy="387.90" r="1.58" fill="#ff0000"/>
<path d="M149.71,416.01L151.43,419.01L147.98,419.01Z" fill="#0000ff"/>
<path d="M157.87,395.50L159.59,398.50L156.14,398.50Z" fill="#0000ff"/>
<path d="M173.37,358.88L175.10,361.88L171.65,361.88Z" fill="#0000ff"/>
<path d="M182.35,347.87L184.07,350.87L180.62,350.87Z" fill="#0000ff"/>
<path d="M192.14,350.20L193.87,353.20L190.42,353.20Z" fill="#0000ff"/>
<path d="M205.60,374.91L207.33,377.91L203.88,377.91Z" fill="#0000ff"/>
<path d="M220.70,413.26L222.43,416.26L218.98,416.26Z" fill="#0000ff"/>
<path d="M149.71,417.19L151.43,414.19L147.98,414.19Z" fill="#ff00ff"/>
<path d="M157.87,393.42L159.59,390.42L156.14,390.42Z" fill="#ff00ff"/>
<path d="M173.37,344.30L175.10,341.30L171.65,341.30Z" fill="#ff00ff"/>
<path d="M182.35,323.13L184.07,320.13L180.62,320.13Z" fill="#ff00ff"/>
<path d="M192.14,315.57L193.87,312.57L190.42,312.57Z" fill="#ff00ff"/>
<path d="M205.60,335.62L207.33,332.62L203.88,332.62Z" fill="#ff00ff"/>
<path d="M220.70,381.99L222.43,378.99L218.98,378.99Z" fill="#ff00ff"/>
<path d="M149.71,418.50L151.36,420.45L149.71,422.40L148.06,420.45Z" fill="#008000"/>
<path d="M157.87,397.04L159.52,398.99L157.87,400.94L156.22,398.99Z" fill="#008000"/>
<path d="M173.37,354.28L175.02,356.23L173.37,358.18L171.72,356.23Z" fill="#008000"/>
<path d="M182.35,337.26L184.00,339.21L182.35,341.16L180.70,339.21Z" fill="#008000"/>
<path d="M192.14,333.13L193.79,335.08L192.14,337.03L190.49,335.08Z" fill="#008000"/>
<path d="M205.60,353.69L207.25,355.64L205.60,357.59L203.95,355.64Z" fill="#008000"/>
<path d="M220.70,395.21L222.35,397.16L220.70,399.11L219.05,397.16Z" fill="#008000"/>
<path d="M147.91,417.54L150.91,415.81L150.91,419.26Z" fill="#000080"/>
<path d="M156.07,398.14L159.07,396.41L159.07,399.86Z" fill="#000080"/>
<path d="M171.57,366.06L174.57,364.33L174.57,367.78Z" fill="#000080"/>
<path d="M180.55,358.60L183.55,356.88L183.55,360.33Z" fill="#000080"/>
<path d="M190.34,364.08L193.34,362.36L193.34,365.81Z" fill="#000080"/>
<path d="M203.80,389.78L206.80,388.05L206.80,391.50Z" fill="#000080"/>
<path d="M218.90,425.19L221.90,423.47L221.90,426.92Z" fill="#000080"/>
<rect x="414.70" y="272.30" width="285.80" height="214.10" fill="none" stroke="#858585" stroke-width="1.05"/>
<line x1="455.53" y1="486.40" x2="455.53" y2="488.90" stroke="#858585" stroke-width="1"/>
<line x1="537.19" y1="486.40" x2="537.19" y2="488.90" stroke="#858585" stroke-width="1"/>
<line x1="618.84" y1="486.40" x2="618.84" y2="488.90" stroke="#858585" stroke-width="1"/>
<line x1="700.50" y1="486.40" x2="700.50" y2="488.90" stroke="#858585" stroke-width="1"/>
<line x1="496.36" y1="486.40" x2="496.36" y2="487.90" stroke="#858585" stroke-width="0.8"/>
<line x1="578.01" y1="486.40" x2="578.01" y2="487.90" stroke="#858585" stroke-width="0.8"/>
<line x1="659.67" y1="486.40" x2="659.67" y2="487.90" stroke="#858585" stroke-width="0.8"/>
<text transform="translate(455.53,501.40) scale(1,1.12)" font-size="13" text-anchor="middle">20</text>
<text transform="translate(537.19,501.40) scale(1,1.12)" font-size="13" text-anchor="middle">30</text>
<text transform="translate(618.84,501.40) scale(1,1.12)" font-size="13" text-anchor="middle">40</text>
<text transform="translate(700.50,501.40) scale(1,1.12)" font-size="13" text-anchor="middle">50</text>
<line x1="412.20" y1="486.40" x2="414.70" y2="486.40" stroke="#858585" stroke-width="1"/>
<text transform="translate(410.30,490.60) scale(1,1.15)" font-size="13" text-anchor="end">0.00</text>
<line x1="412.20" y1="437.74" x2="414.70" y2="437.74" stroke="#858585" stroke-width="1"/>
<text transform="translate(410.30,441.94) scale(1,1.15)" font-size="13" text-anchor="end">0.05</text>
<line x1="412.20" y1="389.08" x2="414.70" y2="389.08" stroke="#858585" stroke-width="1"/>
<text transform="translate(410.30,393.28) scale(1,1.15)" font-size="13" text-anchor="end">0.10</text>
<line x1="412.20" y1="340.42" x2="414.70" y2="340.42" stroke="#858585" stroke-width="1"/>
<text transform="translate(410.30,344.62) scale(1,1.15)" font-size="13" text-anchor="end">0.15</text>
<line x1="412.20" y1="291.76" x2="414.70" y2="291.76" stroke="#858585" stroke-width="1"/>
<text transform="translate(410.30,295.96) scale(1,1.15)" font-size="13" text-anchor="end">0.20</text>
<line x1="413.20" y1="462.07" x2="414.70" y2="462.07" stroke="#858585" stroke-width="0.8"/>
<line x1="413.20" y1="413.41" x2="414.70" y2="413.41" stroke="#858585" stroke-width="0.8"/>
<line x1="413.20" y1="364.75" x2="414.70" y2="364.75" stroke="#858585" stroke-width="0.8"/>
<line x1="413.20" y1="316.09" x2="414.70" y2="316.09" stroke="#858585" stroke-width="0.8"/>
<text x="557.60" y="521.90" font-size="14" text-anchor="middle">E* (KJ/mol)</text>
<text transform="translate(369.50,395.80) rotate(-90)" font-size="14" text-anchor="middle">F(E*) (mg·mol/(g·KJ))</text>
<text x="423.60" y="291.50" font-size="18.5">d</text>
<text transform="translate(450.50,291.50) scale(1,1.05)" font-size="15.7">5.00</text>
<text x="481.90" y="291.50" font-size="15.7">mg·C/L HA</text>
<rect x="590.90" y="281.20" width="3.20" height="3.20" fill="#000000"/>
<text x="605.90" y="286.00" font-size="9.6" fill="#1a1a1a">0.10 mmol/L NaNO<tspan font-size="6.3" dy="3">3</tspan></text>
<circle cx="592.50" cy="297.90" r="1.68" fill="#ff0000"/>
<text x="605.90" y="301.10" font-size="9.6" fill="#1a1a1a">1.00 mmol/L NaNO<tspan font-size="6.3" dy="3">3</tspan></text>
<path d="M592.50,311.08L594.34,314.28L590.66,314.28Z" fill="#0000ff"/>
<text x="605.90" y="316.20" font-size="9.6" fill="#1a1a1a">10.0 mmol/L NaNO<tspan font-size="6.3" dy="3">3</tspan></text>
<path d="M592.50,330.02L594.34,326.82L590.66,326.82Z" fill="#ff00ff"/>
<text x="605.90" y="331.30" font-size="9.6" fill="#1a1a1a">0.03 mmol/L Ca(NO<tspan font-size="6.3" dy="3">3</tspan><tspan dy="-3">)</tspan><tspan font-size="6.3" dy="3">2</tspan></text>
<path d="M592.50,341.12L594.26,343.20L592.50,345.28L590.74,343.20Z" fill="#008000"/>
<text x="605.90" y="346.40" font-size="9.6" fill="#1a1a1a">0.33 mmol/L Ca(NO<tspan font-size="6.3" dy="3">3</tspan><tspan dy="-3">)</tspan><tspan font-size="6.3" dy="3">2</tspan></text>
<path d="M590.58,358.30L593.78,356.46L593.78,360.14Z" fill="#000080"/>
<text x="605.90" y="361.50" font-size="9.6" fill="#1a1a1a">3.33 mmol/L Ca(NO<tspan font-size="6.3" dy="3">3</tspan><tspan dy="-3">)</tspan><tspan font-size="6.3" dy="3">2</tspan></text>
<polyline points="414.70,485.89 415.89,485.86 417.08,485.82 418.27,485.79 419.46,485.75 420.65,485.71 421.84,485.67 423.04,485.62 424.23,485.58 425.42,485.53 426.61,485.47 427.80,485.42 428.99,485.36 430.18,485.29 431.37,485.22 432.56,485.15 433.75,485.08 434.94,485.00 436.13,484.91 437.33,484.82 438.52,484.72 439.71,484.62 440.90,484.51 442.09,484.40 443.28,484.27 444.47,484.14 445.66,484.01 446.85,483.86 448.04,483.71 449.23,483.54 450.43,483.37 451.62,483.18 452.81,482.99 454.00,482.78 455.19,482.56 456.38,482.33 457.57,482.08 458.76,481.82 459.95,481.54 461.14,481.25 462.33,480.94 463.52,480.61 464.71,480.26 465.91,479.89 467.10,479.50 468.29,479.08 469.48,478.64 470.67,478.18 471.86,477.68 473.05,477.16 474.24,476.61 475.43,476.03 476.62,475.41 477.81,474.76 479.00,474.06 480.20,473.33 481.39,472.56 482.58,471.75 483.77,470.89 484.96,469.98 486.15,469.02 487.34,468.01 488.53,466.94 489.72,465.81 490.91,464.62 492.10,463.37 493.30,462.05 494.49,460.66 495.68,459.20 496.87,457.67 498.06,456.05 499.25,454.35 500.44,452.57 501.63,450.70 502.82,448.74 504.01,446.69 505.20,444.54 506.39,442.29 507.58,439.94 508.78,437.49 509.97,434.93 511.16,432.26 512.35,429.48 513.54,426.59 514.73,423.59 515.92,420.48 517.11,417.25 518.30,413.92 519.49,410.48 520.68,406.93 521.88,403.27 523.07,399.52 524.26,395.67 525.45,391.72 526.64,387.70 527.83,383.60 529.02,379.43 530.21,375.20 531.40,370.93 532.59,366.62 533.78,362.30 534.97,357.96 536.16,353.63 537.36,349.33 538.55,345.07 539.74,340.87 540.93,336.74 542.12,332.72 543.31,328.82 544.50,325.05 545.69,321.44 546.88,318.02 548.07,314.79 549.26,311.78 550.45,309.01 551.65,306.49 552.84,304.25 554.03,302.29 555.22,300.63 556.41,299.28 557.60,298.25 558.79,297.55 559.98,297.18 561.17,297.14 562.36,297.44 563.55,298.07 564.75,299.03 565.94,300.32 567.13,301.91 568.32,303.81 569.51,306.00 570.70,308.46 571.89,311.17 573.08,314.13 574.27,317.32 575.46,320.70 576.65,324.27 577.84,328.01 579.03,331.88 580.23,335.88 581.42,339.99 582.61,344.17 583.80,348.42 584.99,352.72 586.18,357.04 587.37,361.38 588.56,365.71 589.75,370.02 590.94,374.30 592.13,378.54 593.33,382.72 594.52,386.84 595.71,390.88 596.90,394.84 598.09,398.71 599.28,402.49 600.47,406.16 601.66,409.73 602.85,413.20 604.04,416.56 605.23,419.81 606.42,422.94 607.62,425.96 608.81,428.88 610.00,431.68 611.19,434.37 612.38,436.95 613.57,439.43 614.76,441.80 615.95,444.07 617.14,446.24 618.33,448.32 619.52,450.30 620.71,452.18 621.90,453.98 623.10,455.70 624.29,457.33 625.48,458.88 626.67,460.36 627.86,461.76 629.05,463.10 630.24,464.36 631.43,465.56 632.62,466.70 633.81,467.78 635.00,468.81 636.19,469.78 637.39,470.70 638.58,471.57 639.77,472.39 640.96,473.18 642.15,473.91 643.34,474.61 644.53,475.27 645.72,475.90 646.91,476.49 648.10,477.05 649.29,477.58 650.49,478.07 651.68,478.54 652.87,478.99 654.06,479.41 655.25,479.81 656.44,480.18 657.63,480.54 658.82,480.87 660.01,481.18 661.20,481.48 662.39,481.76 663.58,482.03 664.77,482.28 665.97,482.51 667.16,482.74 668.35,482.95 669.54,483.14 670.73,483.33 671.92,483.51 673.11,483.67 674.30,483.83 675.49,483.98 676.68,484.12 677.87,484.25 679.07,484.37 680.26,484.49 681.45,484.60 682.64,484.70 683.83,484.80 685.02,484.89 686.21,484.98 687.40,485.06 688.59,485.14 689.78,485.21 690.97,485.28 692.16,485.34 693.36,485.40 694.55,485.46 695.74,485.52 696.93,485.57 698.12,485.61 699.31,485.66 700.50,485.70" fill="none" stroke="#000000" stroke-width="0.8"/>
<polyline points="414.70,485.84 415.89,485.81 417.08,485.77 418.27,485.73 419.46,485.69 420.65,485.65 421.84,485.60 423.04,485.55 424.23,485.50 425.42,485.45 426.61,485.39 427.80,485.33 428.99,485.26 430.18,485.19 431.37,485.12 432.56,485.04 433.75,484.96 434.94,484.87 436.13,484.77 437.33,484.67 438.52,484.57 439.71,484.46 440.90,484.34 442.09,484.21 443.28,484.08 444.47,483.94 445.66,483.79 446.85,483.63 448.04,483.46 449.23,483.28 450.43,483.09 451.62,482.89 452.81,482.68 454.00,482.46 455.19,482.22 456.38,481.96 457.57,481.70 458.76,481.41 459.95,481.11 461.14,480.79 462.33,480.45 463.52,480.10 464.71,479.72 465.91,479.32 467.10,478.89 468.29,478.44 469.48,477.97 470.67,477.46 471.86,476.93 473.05,476.37 474.24,475.77 475.43,475.14 476.62,474.47 477.81,473.77 479.00,473.03 480.20,472.24 481.39,471.41 482.58,470.53 483.77,469.61 484.96,468.64 486.15,467.61 487.34,466.52 488.53,465.38 489.72,464.18 490.91,462.92 492.10,461.58 493.30,460.18 494.49,458.71 495.68,457.17 496.87,455.54 498.06,453.84 499.25,452.06 500.44,450.19 501.63,448.23 502.82,446.18 504.01,444.04 505.20,441.81 506.39,439.48 507.58,437.05 508.78,434.53 509.97,431.90 511.16,429.17 512.35,426.35 513.54,423.42 514.73,420.39 515.92,417.27 517.11,414.05 518.30,410.73 519.49,407.33 520.68,403.84 521.88,400.27 523.07,396.62 524.26,392.91 525.45,389.15 526.64,385.33 527.83,381.47 529.02,377.58 530.21,373.68 531.40,369.77 532.59,365.87 533.78,362.00 534.97,358.17 536.16,354.40 537.36,350.70 538.55,347.10 539.74,343.60 540.93,340.24 542.12,337.02 543.31,333.97 544.50,331.11 545.69,328.44 546.88,325.99 548.07,323.78 549.26,321.81 550.45,320.11 551.65,318.67 552.84,317.52 554.03,316.66 555.22,316.09 556.41,315.82 557.60,315.86 558.79,316.20 559.98,316.83 561.17,317.76 562.36,318.98 563.55,320.48 564.75,322.25 565.94,324.28 567.13,326.55 568.32,329.05 569.51,331.76 570.70,334.67 571.89,337.76 573.08,341.02 574.27,344.41 575.46,347.93 576.65,351.56 577.84,355.28 579.03,359.06 580.23,362.90 581.42,366.78 582.61,370.68 583.80,374.59 584.99,378.49 586.18,382.37 587.37,386.22 588.56,390.03 589.75,393.79 590.94,397.48 592.13,401.11 593.33,404.66 594.52,408.13 595.71,411.52 596.90,414.81 598.09,418.01 599.28,421.11 600.47,424.11 601.66,427.02 602.85,429.82 604.04,432.52 605.23,435.13 606.42,437.63 607.62,440.03 608.81,442.34 610.00,444.55 611.19,446.67 612.38,448.69 613.57,450.63 614.76,452.48 615.95,454.25 617.14,455.93 618.33,457.54 619.52,459.06 620.71,460.52 621.90,461.90 623.10,463.22 624.29,464.47 625.48,465.66 626.67,466.78 627.86,467.85 629.05,468.87 630.24,469.83 631.43,470.74 632.62,471.61 633.81,472.43 635.00,473.20 636.19,473.94 637.39,474.63 638.58,475.29 639.77,475.91 640.96,476.50 642.15,477.06 643.34,477.58 644.53,478.08 645.72,478.55 646.91,478.99 648.10,479.41 649.29,479.81 650.49,480.18 651.68,480.53 652.87,480.87 654.06,481.18 655.25,481.48 656.44,481.76 657.63,482.02 658.82,482.27 660.01,482.51 661.20,482.73 662.39,482.94 663.58,483.14 664.77,483.33 665.97,483.50 667.16,483.67 668.35,483.83 669.54,483.97 670.73,484.11 671.92,484.24 673.11,484.37 674.30,484.48 675.49,484.59 676.68,484.70 677.87,484.80 679.07,484.89 680.26,484.98 681.45,485.06 682.64,485.13 683.83,485.21 685.02,485.28 686.21,485.34 687.40,485.40 688.59,485.46 689.78,485.51 690.97,485.56 692.16,485.61 693.36,485.66 694.55,485.70 695.74,485.74 696.93,485.78 698.12,485.82 699.31,485.85 700.50,485.88" fill="none" stroke="#ff0000" stroke-width="0.8"/>
<polyline points="414.70,485.86 415.89,485.83 417.08,485.80 418.27,485.76 419.46,485.72 420.65,485.68 421.84,485.63 423.04,485.59 424.23,485.54 425.42,485.48 426.61,485.43 427.80,485.37 428.99,485.31 430.18,485.24 431.37,485.17 432.56,485.09 433.75,485.01 434.94,484.93 436.13,484.84 437.33,484.74 438.52,484.64 439.71,484.53 440.90,484.42 442.09,484.30 443.28,484.17 444.47,484.04 445.66,483.89 446.85,483.74 448.04,483.58 449.23,483.41 450.43,483.23 451.62,483.03 452.81,482.83 454.00,482.62 455.19,482.39 456.38,482.14 457.57,481.89 458.76,481.62 459.95,481.33 461.14,481.02 462.33,480.70 463.52,480.36 464.71,479.99 465.91,479.61 467.10,479.20 468.29,478.78 469.48,478.32 470.67,477.84 471.86,477.33 473.05,476.80 474.24,476.23 475.43,475.63 476.62,475.00 477.81,474.33 479.00,473.62 480.20,472.87 481.39,472.09 482.58,471.26 483.77,470.38 484.96,469.46 486.15,468.49 487.34,467.47 488.53,466.39 489.72,465.26 490.91,464.07 492.10,462.82 493.30,461.50 494.49,460.12 495.68,458.68 496.87,457.16 498.06,455.57 499.25,453.91 500.44,452.18 501.63,450.36 502.82,448.47 504.01,446.50 505.20,444.44 506.39,442.30 507.58,440.08 508.78,437.77 509.97,435.38 511.16,432.91 512.35,430.35 513.54,427.72 514.73,425.00 515.92,422.21 517.11,419.34 518.30,416.41 519.49,413.41 520.68,410.35 521.88,407.24 523.07,404.08 524.26,400.88 525.45,397.65 526.64,394.41 527.83,391.15 529.02,387.89 530.21,384.65 531.40,381.44 532.59,378.27 533.78,375.15 534.97,372.09 536.16,369.12 537.36,366.25 538.55,363.50 539.74,360.87 540.93,358.39 542.12,356.07 543.31,353.92 544.50,351.95 545.69,350.19 546.88,348.63 548.07,347.30 549.26,346.20 550.45,345.33 551.65,344.71 552.84,344.34 554.03,344.22 555.22,344.35 556.41,344.73 557.60,345.36 558.79,346.23 559.98,347.34 561.17,348.68 562.36,350.24 563.55,352.02 564.75,353.99 565.94,356.14 567.13,358.47 568.32,360.96 569.51,363.59 570.70,366.35 571.89,369.22 573.08,372.20 574.27,375.25 575.46,378.37 576.65,381.55 577.84,384.76 579.03,388.01 580.23,391.26 581.42,394.52 582.61,397.76 583.80,400.99 584.99,404.19 586.18,407.34 587.37,410.45 588.56,413.51 589.75,416.51 590.94,419.44 592.13,422.31 593.33,425.10 594.52,427.81 595.71,430.44 596.90,433.00 598.09,435.47 599.28,437.85 600.47,440.16 601.66,442.38 602.85,444.51 604.04,446.56 605.23,448.54 606.42,450.43 607.62,452.24 608.81,453.97 610.00,455.63 611.19,457.21 612.38,458.73 613.57,460.17 614.76,461.55 615.95,462.86 617.14,464.11 618.33,465.30 619.52,466.43 620.71,467.50 621.90,468.52 623.10,469.49 624.29,470.41 625.48,471.29 626.67,472.12 627.86,472.90 629.05,473.64 630.24,474.35 631.43,475.02 632.62,475.65 633.81,476.25 635.00,476.82 636.19,477.35 637.39,477.86 638.58,478.34 639.77,478.79 640.96,479.22 642.15,479.62 643.34,480.01 644.53,480.37 645.72,480.71 646.91,481.03 648.10,481.34 649.29,481.62 650.49,481.90 651.68,482.15 652.87,482.39 654.06,482.62 655.25,482.84 656.44,483.04 657.63,483.23 658.82,483.41 660.01,483.59 661.20,483.75 662.39,483.90 663.58,484.04 664.77,484.18 665.97,484.30 667.16,484.42 668.35,484.54 669.54,484.65 670.73,484.75 671.92,484.84 673.11,484.93 674.30,485.02 675.49,485.09 676.68,485.17 677.87,485.24 679.07,485.31 680.26,485.37 681.45,485.43 682.64,485.49 683.83,485.54 685.02,485.59 686.21,485.63 687.40,485.68 688.59,485.72 689.78,485.76 690.97,485.80 692.16,485.83 693.36,485.86 694.55,485.90 695.74,485.92 696.93,485.95 698.12,485.98 699.31,486.00 700.50,486.02" fill="none" stroke="#0000ff" stroke-width="0.8"/>
<polyline points="414.70,485.84 415.89,485.80 417.08,485.77 418.27,485.73 419.46,485.69 420.65,485.64 421.84,485.60 423.04,485.55 424.23,485.50 425.42,485.44 426.61,485.38 427.80,485.32 428.99,485.25 430.18,485.18 431.37,485.11 432.56,485.03 433.75,484.95 434.94,484.86 436.13,484.76 437.33,484.66 438.52,484.56 439.71,484.44 440.90,484.33 442.09,484.20 443.28,484.06 444.47,483.92 445.66,483.77 446.85,483.61 448.04,483.44 449.23,483.26 450.43,483.07 451.62,482.87 452.81,482.65 454.00,482.43 455.19,482.19 456.38,481.93 457.57,481.66 458.76,481.38 459.95,481.07 461.14,480.75 462.33,480.41 463.52,480.05 464.71,479.67 465.91,479.26 467.10,478.83 468.29,478.38 469.48,477.90 470.67,477.39 471.86,476.85 473.05,476.29 474.24,475.68 475.43,475.05 476.62,474.38 477.81,473.67 479.00,472.91 480.20,472.12 481.39,471.28 482.58,470.40 483.77,469.47 484.96,468.48 486.15,467.44 487.34,466.35 488.53,465.19 489.72,463.98 490.91,462.69 492.10,461.35 493.30,459.93 494.49,458.44 495.68,456.87 496.87,455.23 498.06,453.50 499.25,451.69 500.44,449.79 501.63,447.80 502.82,445.72 504.01,443.55 505.20,441.28 506.39,438.90 507.58,436.43 508.78,433.86 509.97,431.18 511.16,428.40 512.35,425.51 513.54,422.52 514.73,419.42 515.92,416.22 517.11,412.91 518.30,409.51 519.49,406.01 520.68,402.42 521.88,398.75 523.07,394.99 524.26,391.15 525.45,387.25 526.64,383.30 527.83,379.29 529.02,375.25 530.21,371.18 531.40,367.10 532.59,363.02 533.78,358.96 534.97,354.93 536.16,350.95 537.36,347.04 538.55,343.21 539.74,339.49 540.93,335.89 542.12,332.43 543.31,329.14 544.50,326.02 545.69,323.11 546.88,320.41 548.07,317.94 549.26,315.73 550.45,313.77 551.65,312.10 552.84,310.71 554.03,309.62 555.22,308.84 556.41,308.37 557.60,308.21 558.79,308.37 559.98,308.84 561.17,309.62 562.36,310.71 563.55,312.10 564.75,313.77 565.94,315.73 567.13,317.94 568.32,320.41 569.51,323.11 570.70,326.02 571.89,329.14 573.08,332.43 574.27,335.89 575.46,339.49 576.65,343.21 577.84,347.04 579.03,350.95 580.23,354.93 581.42,358.96 582.61,363.02 583.80,367.10 584.99,371.18 586.18,375.25 587.37,379.29 588.56,383.30 589.75,387.25 590.94,391.15 592.13,394.99 593.33,398.75 594.52,402.42 595.71,406.01 596.90,409.51 598.09,412.91 599.28,416.22 600.47,419.42 601.66,422.52 602.85,425.51 604.04,428.40 605.23,431.18 606.42,433.86 607.62,436.43 608.81,438.90 610.00,441.28 611.19,443.55 612.38,445.72 613.57,447.80 614.76,449.79 615.95,451.69 617.14,453.50 618.33,455.23 619.52,456.87 620.71,458.44 621.90,459.93 623.10,461.35 624.29,462.69 625.48,463.98 626.67,465.19 627.86,466.35 629.05,467.44 630.24,468.48 631.43,469.47 632.62,470.40 633.81,471.28 635.00,472.12 636.19,472.91 637.39,473.67 638.58,474.38 639.77,475.05 640.96,475.68 642.15,476.29 643.34,476.85 644.53,477.39 645.72,477.90 646.91,478.38 648.10,478.83 649.29,479.26 650.49,479.67 651.68,480.05 652.87,480.41 654.06,480.75 655.25,481.07 656.44,481.38 657.63,481.66 658.82,481.93 660.01,482.19 661.20,482.43 662.39,482.65 663.58,482.87 664.77,483.07 665.97,483.26 667.16,483.44 668.35,483.61 669.54,483.77 670.73,483.92 671.92,484.06 673.11,484.20 674.30,484.33 675.49,484.44 676.68,484.56 677.87,484.66 679.07,484.76 680.26,484.86 681.45,484.95 682.64,485.03 683.83,485.11 685.02,485.18 686.21,485.25 687.40,485.32 688.59,485.38 689.78,485.44 690.97,485.50 692.16,485.55 693.36,485.60 694.55,485.64 695.74,485.69 696.93,485.73 698.12,485.77 699.31,485.80 700.50,485.84" fill="none" stroke="#ff00ff" stroke-width="0.8"/>
<polyline points="414.70,485.86 415.89,485.83 417.08,485.79 418.27,485.75 419.46,485.72 420.65,485.67 421.84,485.63 423.04,485.58 424.23,485.53 425.42,485.48 426.61,485.42 427.80,485.36 428.99,485.30 430.18,485.23 431.37,485.16 432.56,485.08 433.75,485.00 434.94,484.92 436.13,484.83 437.33,484.73 438.52,484.63 439.71,484.52 440.90,484.41 442.09,484.29 443.28,484.16 444.47,484.02 445.66,483.88 446.85,483.73 448.04,483.56 449.23,483.39 450.43,483.21 451.62,483.01 452.81,482.81 454.00,482.59 455.19,482.36 456.38,482.12 457.57,481.86 458.76,481.58 459.95,481.29 461.14,480.98 462.33,480.66 463.52,480.31 464.71,479.95 465.91,479.56 467.10,479.15 468.29,478.72 469.48,478.26 470.67,477.77 471.86,477.26 473.05,476.72 474.24,476.14 475.43,475.54 476.62,474.90 477.81,474.22 479.00,473.50 480.20,472.75 481.39,471.95 482.58,471.11 483.77,470.22 484.96,469.28 486.15,468.29 487.34,467.25 488.53,466.16 489.72,465.00 490.91,463.79 492.10,462.51 493.30,461.17 494.49,459.76 495.68,458.28 496.87,456.72 498.06,455.10 499.25,453.39 500.44,451.60 501.63,449.73 502.82,447.78 504.01,445.74 505.20,443.61 506.39,441.40 507.58,439.09 508.78,436.69 509.97,434.20 511.16,431.61 512.35,428.93 513.54,426.16 514.73,423.30 515.92,420.36 517.11,417.32 518.30,414.20 519.49,411.01 520.68,407.73 521.88,404.39 523.07,400.99 524.26,397.53 525.45,394.02 526.64,390.48 527.83,386.91 529.02,383.32 530.21,379.72 531.40,376.13 532.59,372.56 533.78,369.03 534.97,365.55 536.16,362.14 537.36,358.80 538.55,355.57 539.74,352.45 540.93,349.47 542.12,346.63 543.31,343.96 544.50,341.48 545.69,339.19 546.88,337.11 548.07,335.26 549.26,333.65 550.45,332.28 551.65,331.17 552.84,330.33 554.03,329.76 555.22,329.47 556.41,329.45 557.60,329.71 558.79,330.25 559.98,331.06 561.17,332.14 562.36,333.47 563.55,335.05 564.75,336.88 565.94,338.93 567.13,341.19 568.32,343.66 569.51,346.30 570.70,349.12 571.89,352.09 573.08,355.19 574.27,358.41 575.46,361.73 576.65,365.14 577.84,368.61 579.03,372.14 580.23,375.70 581.42,379.29 582.61,382.88 583.80,386.48 584.99,390.05 586.18,393.60 587.37,397.11 588.56,400.58 589.75,403.99 590.94,407.34 592.13,410.62 593.33,413.82 594.52,416.95 595.71,420.00 596.90,422.95 598.09,425.82 599.28,428.61 600.47,431.29 601.66,433.89 602.85,436.39 604.04,438.80 605.23,441.12 606.42,443.35 607.62,445.49 608.81,447.54 610.00,449.50 611.19,451.38 612.38,453.18 613.57,454.89 614.76,456.53 615.95,458.09 617.14,459.58 618.33,461.00 619.52,462.35 620.71,463.64 621.90,464.86 623.10,466.02 624.29,467.12 625.48,468.17 626.67,469.16 627.86,470.11 629.05,471.00 630.24,471.85 631.43,472.65 632.62,473.41 633.81,474.13 635.00,474.82 636.19,475.46 637.39,476.07 638.58,476.65 639.77,477.20 640.96,477.71 642.15,478.20 643.34,478.66 644.53,479.10 645.72,479.51 646.91,479.90 648.10,480.27 649.29,480.62 650.49,480.95 651.68,481.26 652.87,481.55 654.06,481.83 655.25,482.09 656.44,482.33 657.63,482.56 658.82,482.78 660.01,482.99 661.20,483.19 662.39,483.37 663.58,483.54 664.77,483.71 665.97,483.86 667.16,484.01 668.35,484.14 669.54,484.27 670.73,484.40 671.92,484.51 673.11,484.62 674.30,484.72 675.49,484.82 676.68,484.91 677.87,484.99 679.07,485.08 680.26,485.15 681.45,485.22 682.64,485.29 683.83,485.36 685.02,485.42 686.21,485.47 687.40,485.53 688.59,485.58 689.78,485.62 690.97,485.67 692.16,485.71 693.36,485.75 694.55,485.79 695.74,485.82 696.93,485.86 698.12,485.89 699.31,485.92 700.50,485.95" fill="none" stroke="#008000" stroke-width="0.8"/>
<polyline points="414.70,485.85 415.89,485.82 417.08,485.79 418.27,485.75 419.46,485.71 420.65,485.67 421.84,485.62 423.04,485.57 424.23,485.52 425.42,485.47 426.61,485.41 427.80,485.35 428.99,485.29 430.18,485.22 431.37,485.15 432.56,485.07 433.75,484.99 434.94,484.91 436.13,484.81 437.33,484.72 438.52,484.62 439.71,484.51 440.90,484.39 442.09,484.27 443.28,484.14 444.47,484.00 445.66,483.86 446.85,483.70 448.04,483.54 449.23,483.36 450.43,483.18 451.62,482.99 452.81,482.78 454.00,482.56 455.19,482.33 456.38,482.08 457.57,481.82 458.76,481.55 459.95,481.26 461.14,480.95 462.33,480.62 463.52,480.27 464.71,479.91 465.91,479.52 467.10,479.11 468.29,478.67 469.48,478.22 470.67,477.73 471.86,477.22 473.05,476.67 474.24,476.10 475.43,475.50 476.62,474.86 477.81,474.18 479.00,473.47 480.20,472.72 481.39,471.93 482.58,471.09 483.77,470.21 484.96,469.28 486.15,468.31 487.34,467.28 488.53,466.20 489.72,465.06 490.91,463.87 492.10,462.62 493.30,461.30 494.49,459.92 495.68,458.48 496.87,456.97 498.06,455.38 499.25,453.73 500.44,452.00 501.63,450.20 502.82,448.32 504.01,446.37 505.20,444.33 506.39,442.22 507.58,440.03 508.78,437.76 509.97,435.41 511.16,432.99 512.35,430.49 513.54,427.91 514.73,425.27 515.92,422.55 517.11,419.78 518.30,416.94 519.49,414.05 520.68,411.11 521.88,408.13 523.07,405.11 524.26,402.08 525.45,399.02 526.64,395.96 527.83,392.90 529.02,389.86 530.21,386.85 531.40,383.88 532.59,380.97 533.78,378.12 534.97,375.36 536.16,372.70 537.36,370.14 538.55,367.71 539.74,365.42 540.93,363.29 542.12,361.32 543.31,359.53 544.50,357.93 545.69,356.53 546.88,355.34 548.07,354.37 549.26,353.63 550.45,353.12 551.65,352.84 552.84,352.79 554.03,352.99 555.22,353.42 556.41,354.08 557.60,354.97 558.79,356.08 559.98,357.40 561.17,358.93 562.36,360.65 563.55,362.56 564.75,364.63 565.94,366.87 567.13,369.25 568.32,371.76 569.51,374.39 570.70,377.12 571.89,379.94 573.08,382.83 574.27,385.78 575.46,388.78 576.65,391.81 577.84,394.86 579.03,397.92 580.23,400.98 581.42,404.02 582.61,407.05 583.80,410.04 584.99,413.00 586.18,415.90 587.37,418.76 588.56,421.56 589.75,424.30 590.94,426.97 592.13,429.57 593.33,432.10 594.52,434.55 595.71,436.92 596.90,439.22 598.09,441.44 599.28,443.58 600.47,445.64 601.66,447.63 602.85,449.53 604.04,451.36 605.23,453.12 606.42,454.80 607.62,456.40 608.81,457.94 610.00,459.41 611.19,460.81 612.38,462.15 613.57,463.43 614.76,464.64 615.95,465.80 617.14,466.90 618.33,467.94 619.52,468.94 620.71,469.88 621.90,470.78 623.10,471.63 624.29,472.44 625.48,473.20 626.67,473.93 627.86,474.62 629.05,475.27 630.24,475.89 631.43,476.47 632.62,477.02 633.81,477.55 635.00,478.04 636.19,478.51 637.39,478.95 638.58,479.37 639.77,479.77 640.96,480.14 642.15,480.50 643.34,480.83 644.53,481.15 645.72,481.44 646.91,481.73 648.10,481.99 649.29,482.24 650.49,482.48 651.68,482.70 652.87,482.91 654.06,483.11 655.25,483.30 656.44,483.48 657.63,483.64 658.82,483.80 660.01,483.95 661.20,484.09 662.39,484.22 663.58,484.35 664.77,484.47 665.97,484.58 667.16,484.68 668.35,484.78 669.54,484.87 670.73,484.96 671.92,485.04 673.11,485.12 674.30,485.20 675.49,485.26 676.68,485.33 677.87,485.39 679.07,485.45 680.26,485.50 681.45,485.56 682.64,485.60 683.83,485.65 685.02,485.69 686.21,485.73 687.40,485.77 688.59,485.81 689.78,485.84 690.97,485.88 692.16,485.91 693.36,485.93 694.55,485.96 695.74,485.99 696.93,486.01 698.12,486.03 699.31,486.05 700.50,486.07" fill="none" stroke="#000080" stroke-width="0.8"/>
<line x1="551.39" y1="272.30" x2="551.39" y2="486.40" stroke="#0000ff" stroke-width="1" stroke-dasharray="2,2.1" opacity="0.6"/>
<line x1="553.27" y1="272.30" x2="553.27" y2="486.40" stroke="#008000" stroke-width="1" stroke-dasharray="2,2.1" opacity="0.6"/>
<line x1="555.40" y1="272.30" x2="555.40" y2="486.40" stroke="#000000" stroke-width="1" stroke-dasharray="2,2.1" opacity="0.6"/>
<line x1="556.38" y1="272.30" x2="556.38" y2="486.40" stroke="#ff00ff" stroke-width="1" stroke-dasharray="2,2.1" opacity="0.6"/>
<line x1="557.27" y1="272.30" x2="557.27" y2="486.40" stroke="#ff0000" stroke-width="1" stroke-dasharray="2,2.1" opacity="0.6"/>
<line x1="560.38" y1="272.30" x2="560.38" y2="486.40" stroke="#000080" stroke-width="1" stroke-dasharray="2,2.1" opacity="0.6"/>
<rect x="506.29" y="438.03" width="3.00" height="3.00" fill="#000000"/>
<rect x="515.27" y="416.69" width="3.00" height="3.00" fill="#000000"/>
<rect x="529.97" y="369.19" width="3.00" height="3.00" fill="#000000"/>
<rect x="538.95" y="336.88" width="3.00" height="3.00" fill="#000000"/>
<rect x="547.93" y="309.87" width="3.00" height="3.00" fill="#000000"/>
<rect x="563.45" y="297.73" width="3.00" height="3.00" fill="#000000"/>
<rect x="579.78" y="338.01" width="3.00" height="3.00" fill="#000000"/>
<circle cx="507.79" cy="436.63" r="1.58" fill="#ff0000"/>
<circle cx="516.77" cy="414.98" r="1.58" fill="#ff0000"/>
<circle cx="531.47" cy="369.55" r="1.58" fill="#ff0000"/>
<circle cx="540.45" cy="341.57" r="1.58" fill="#ff0000"/>
<circle cx="549.43" cy="321.55" r="1.58" fill="#ff0000"/>
<circle cx="564.95" cy="322.58" r="1.58" fill="#ff0000"/>
<circle cx="581.28" cy="366.34" r="1.58" fill="#ff0000"/>
<path d="M507.79,437.89L509.51,440.89L506.06,440.89Z" fill="#0000ff"/>
<path d="M516.77,418.37L518.50,421.37L515.05,421.37Z" fill="#0000ff"/>
<path d="M531.47,379.46L533.19,382.46L529.74,382.46Z" fill="#0000ff"/>
<path d="M540.45,357.56L542.18,360.56L538.73,360.56Z" fill="#0000ff"/>
<path d="M549.43,344.26L551.16,347.26L547.71,347.26Z" fill="#0000ff"/>
<path d="M564.95,352.54L566.67,355.54L563.22,355.54Z" fill="#0000ff"/>
<path d="M581.28,392.35L583.01,395.35L579.56,395.35Z" fill="#0000ff"/>
<path d="M507.79,437.80L509.51,434.80L506.06,434.80Z" fill="#ff00ff"/>
<path d="M516.77,415.67L518.50,412.67L515.05,412.67Z" fill="#ff00ff"/>
<path d="M531.47,368.66L533.19,365.66L529.74,365.66Z" fill="#ff00ff"/>
<path d="M540.45,339.11L542.18,336.11L538.73,336.11Z" fill="#ff00ff"/>
<path d="M549.43,317.23L551.16,314.23L547.71,314.23Z" fill="#ff00ff"/>
<path d="M564.95,315.89L566.67,312.89L563.22,312.89Z" fill="#ff00ff"/>
<path d="M581.28,360.29L583.01,357.29L579.56,357.29Z" fill="#ff00ff"/>
<path d="M507.79,436.73L509.44,438.68L507.79,440.63L506.14,438.68Z" fill="#008000"/>
<path d="M516.77,416.25L518.42,418.20L516.77,420.15L515.12,418.20Z" fill="#008000"/>
<path d="M531.47,373.98L533.12,375.93L531.47,377.88L529.82,375.93Z" fill="#008000"/>
<path d="M540.45,348.69L542.10,350.64L540.45,352.59L538.80,350.64Z" fill="#008000"/>
<path d="M549.43,331.49L551.08,333.44L549.43,335.39L547.78,333.44Z" fill="#008000"/>
<path d="M564.95,335.26L566.60,337.21L564.95,339.16L563.30,337.21Z" fill="#008000"/>
<path d="M581.28,376.93L582.93,378.88L581.28,380.83L579.63,378.88Z" fill="#008000"/>
<path d="M505.99,439.65L508.99,437.92L508.99,441.37Z" fill="#000080"/>
<path d="M514.97,420.58L517.97,418.85L517.97,422.30Z" fill="#000080"/>
<path d="M529.67,383.72L532.67,381.99L532.67,385.44Z" fill="#000080"/>
<path d="M538.65,364.12L541.65,362.40L541.65,365.85Z" fill="#000080"/>
<path d="M547.63,353.54L550.63,351.82L550.63,355.27Z" fill="#000080"/>
<path d="M563.15,365.01L566.15,363.28L566.15,366.73Z" fill="#000080"/>
<path d="M579.48,403.68L582.48,401.95L582.48,405.40Z" fill="#000080"/>
</svg></body></html>
